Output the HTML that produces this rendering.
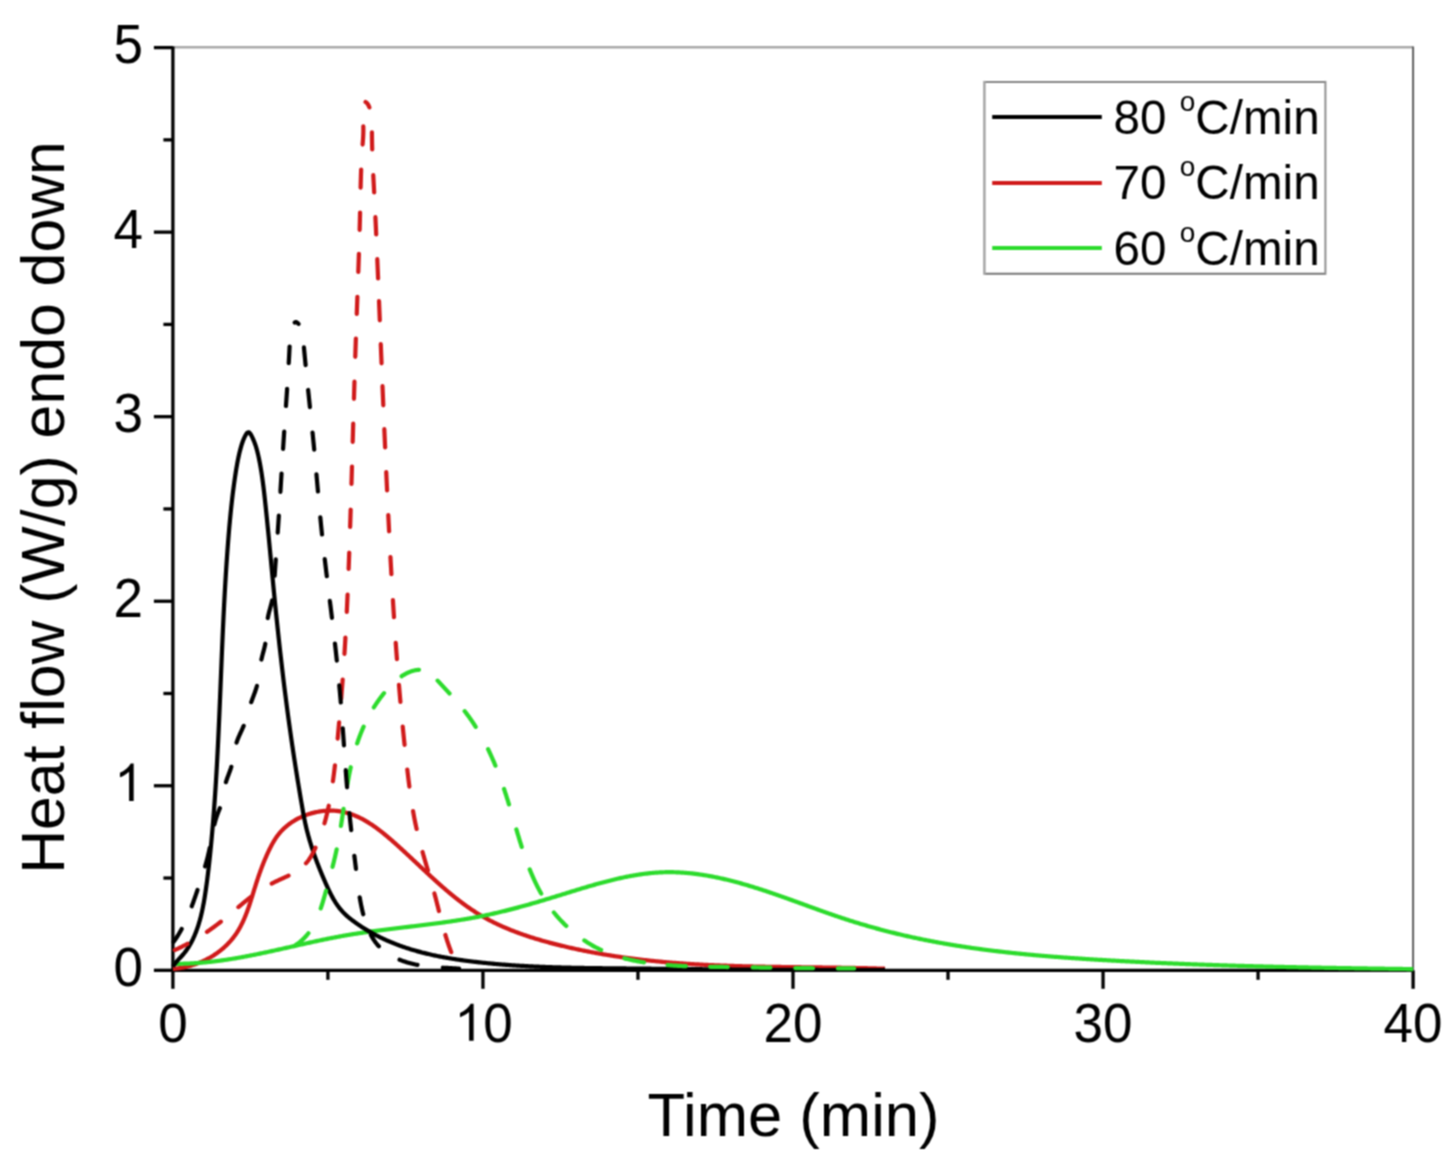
<!DOCTYPE html>
<html><head><meta charset="utf-8"><style>
html,body{margin:0;padding:0;background:#fff;width:1453px;height:1156px;overflow:hidden}
svg{display:block}
text{font-family:"Liberation Sans",sans-serif;fill:#000}
</style></head><body>
<svg width="1453" height="1156" viewBox="0 0 1453 1156"><defs><filter id="bl" x="0" y="0" width="1" height="1" color-interpolation-filters="sRGB"><feConvolveMatrix order="3" kernelMatrix="1 2 1 2 4 2 1 2 1" divisor="16" edgeMode="duplicate"/></filter></defs><g filter="url(#bl)"><rect width="1453" height="1156" fill="#fff"/>
<line x1="172.9" y1="47.300000000000004" x2="1413.1" y2="47.300000000000004" stroke="#a8a8a8" stroke-width="2.5"/>
<line x1="1413.1" y1="46.4" x2="1413.1" y2="970.3" stroke="#5e5e5e" stroke-width="2"/>
<line x1="172.9" y1="970.3" x2="1413.1" y2="970.3" stroke="#000" stroke-width="3.3"/>
<line x1="172.9" y1="46.4" x2="172.9" y2="971.8" stroke="#000" stroke-width="3.3"/>
<line x1="172.90" y1="970.3" x2="172.90" y2="988.8" stroke="#000" stroke-width="3.3"/>
<line x1="327.92" y1="970.3" x2="327.92" y2="979.8" stroke="#000" stroke-width="3.3"/>
<line x1="482.95" y1="970.3" x2="482.95" y2="988.8" stroke="#000" stroke-width="3.3"/>
<line x1="637.97" y1="970.3" x2="637.97" y2="979.8" stroke="#000" stroke-width="3.3"/>
<line x1="793.00" y1="970.3" x2="793.00" y2="988.8" stroke="#000" stroke-width="3.3"/>
<line x1="948.02" y1="970.3" x2="948.02" y2="979.8" stroke="#000" stroke-width="3.3"/>
<line x1="1103.05" y1="970.3" x2="1103.05" y2="988.8" stroke="#000" stroke-width="3.3"/>
<line x1="1258.07" y1="970.3" x2="1258.07" y2="979.8" stroke="#000" stroke-width="3.3"/>
<line x1="1413.10" y1="970.3" x2="1413.10" y2="988.8" stroke="#000" stroke-width="3.3"/>
<line x1="172.9" y1="970.30" x2="153.9" y2="970.30" stroke="#000" stroke-width="3.3"/>
<line x1="172.9" y1="878.03" x2="163.4" y2="878.03" stroke="#000" stroke-width="3.3"/>
<line x1="172.9" y1="785.76" x2="153.9" y2="785.76" stroke="#000" stroke-width="3.3"/>
<line x1="172.9" y1="693.49" x2="163.4" y2="693.49" stroke="#000" stroke-width="3.3"/>
<line x1="172.9" y1="601.22" x2="153.9" y2="601.22" stroke="#000" stroke-width="3.3"/>
<line x1="172.9" y1="508.95" x2="163.4" y2="508.95" stroke="#000" stroke-width="3.3"/>
<line x1="172.9" y1="416.68" x2="153.9" y2="416.68" stroke="#000" stroke-width="3.3"/>
<line x1="172.9" y1="324.41" x2="163.4" y2="324.41" stroke="#000" stroke-width="3.3"/>
<line x1="172.9" y1="232.14" x2="153.9" y2="232.14" stroke="#000" stroke-width="3.3"/>
<line x1="172.9" y1="139.87" x2="163.4" y2="139.87" stroke="#000" stroke-width="3.3"/>
<line x1="172.9" y1="47.60" x2="153.9" y2="47.60" stroke="#000" stroke-width="3.3"/>
<path d="M172.99,968.91 L173.96,968.83 L174.94,968.73 L175.92,968.63 L176.89,968.51 L177.87,968.38 L178.85,968.24 L179.83,968.09 L180.82,967.92 L181.80,967.75 L182.78,967.57 L183.76,967.37 L184.74,967.16 L185.72,966.94 L186.69,966.71 L187.67,966.47 L188.64,966.22 L189.61,965.96 L190.58,965.69 L191.55,965.40 L192.52,965.11 L193.48,964.80 L194.44,964.48 L195.40,964.16 L196.35,963.82 L197.30,963.47 L198.24,963.11 L199.18,962.74 L200.12,962.36 L201.05,961.97 L201.98,961.56 L202.90,961.15 L203.81,960.73 L204.72,960.30 L205.63,959.85 L206.53,959.40 L207.42,958.94 L208.31,958.46 L209.19,957.98 L210.07,957.48 L210.94,956.98 L211.80,956.47 L212.66,955.94 L213.51,955.41 L214.35,954.87 L215.18,954.32 L216.01,953.75 L216.83,953.18 L217.64,952.60 L218.45,952.01 L219.25,951.41 L220.04,950.80 L220.82,950.19 L221.59,949.56 L222.35,948.93 L223.11,948.28 L223.86,947.63 L224.59,946.97 L225.32,946.30 L226.04,945.62 L226.76,944.93 L227.46,944.23 L228.15,943.53 L228.83,942.81 L229.50,942.09 L230.16,941.36 L230.82,940.63 L231.46,939.88 L232.09,939.13 L232.71,938.36 L233.32,937.59 L233.92,936.82 L234.51,936.03 L235.08,935.24 L235.65,934.43 L236.20,933.63 L236.75,932.81 L237.28,931.99 L237.80,931.16 L238.31,930.32 L238.82,929.47 L239.31,928.62 L239.79,927.77 L240.26,926.90 L240.73,926.03 L241.18,925.16 L241.63,924.28 L242.07,923.39 L242.50,922.50 L242.92,921.60 L243.34,920.70 L243.75,919.80 L244.15,918.88 L244.54,917.97 L244.93,917.05 L245.31,916.12 L245.68,915.20 L246.05,914.26 L246.41,913.33 L246.77,912.39 L247.12,911.45 L247.47,910.50 L247.81,909.55 L248.15,908.60 L248.49,907.64 L248.82,906.69 L249.14,905.73 L249.47,904.77 L249.79,903.80 L250.10,902.84 L250.42,901.87 L250.73,900.90 L251.04,899.93 L251.35,898.96 L251.65,897.99 L251.96,897.02 L252.26,896.04 L252.56,895.07 L252.86,894.10 L253.16,893.12 L253.46,892.15 L253.76,891.17 L254.06,890.20 L254.36,889.23 L254.66,888.25 L254.96,887.28 L255.27,886.31 L255.57,885.34 L255.88,884.37 L256.19,883.41 L256.50,882.44 L256.81,881.48 L257.12,880.52 L257.44,879.56 L257.76,878.60 L258.08,877.64 L258.40,876.69 L258.73,875.74 L259.06,874.78 L259.39,873.83 L259.73,872.89 L260.07,871.94 L260.41,871.00 L260.75,870.05 L261.10,869.11 L261.45,868.17 L261.80,867.24 L262.16,866.30 L262.52,865.37 L262.88,864.43 L263.25,863.50 L263.62,862.58 L264.00,861.65 L264.38,860.72 L264.76,859.80 L265.15,858.88 L265.54,857.96 L265.94,857.04 L266.34,856.13 L266.74,855.21 L267.15,854.30 L267.56,853.39 L267.98,852.48 L268.41,851.58 L268.83,850.67 L269.27,849.77 L269.70,848.87 L270.15,847.97 L270.60,847.08 L271.06,846.19 L271.52,845.30 L271.99,844.42 L272.48,843.55 L272.97,842.68 L273.47,841.82 L273.98,840.96 L274.50,840.11 L275.03,839.27 L275.57,838.44 L276.13,837.61 L276.69,836.80 L277.27,835.99 L277.87,835.20 L278.48,834.41 L279.10,833.64 L279.74,832.88 L280.39,832.13 L281.05,831.39 L281.74,830.66 L282.43,829.94 L283.14,829.24 L283.86,828.55 L284.59,827.87 L285.34,827.20 L286.10,826.55 L286.87,825.90 L287.65,825.27 L288.44,824.66 L289.25,824.05 L290.06,823.46 L290.89,822.88 L291.72,822.31 L292.57,821.75 L293.42,821.21 L294.29,820.68 L295.16,820.16 L296.04,819.66 L296.93,819.16 L297.83,818.68 L298.74,818.22 L299.65,817.77 L300.57,817.33 L301.50,816.90 L302.44,816.49 L303.38,816.09 L304.32,815.70 L305.28,815.33 L306.23,814.97 L307.20,814.63 L308.16,814.30 L309.14,813.98 L310.11,813.67 L311.09,813.38 L312.08,813.11 L313.06,812.85 L314.05,812.60 L315.04,812.36 L316.04,812.15 L317.04,811.94 L318.03,811.75 L319.03,811.57 L320.04,811.41 L321.04,811.26 L322.04,811.13 L323.04,811.01 L324.05,810.91 L325.05,810.82 L326.05,810.75 L327.05,810.69 L328.05,810.64 L329.05,810.61 L330.05,810.60 L331.04,810.60 L332.03,810.62 L333.02,810.65 L334.01,810.70 L334.99,810.76 L335.97,810.84 L336.94,810.93 L337.91,811.04 L338.88,811.17 L339.84,811.31 L340.80,811.46 L341.75,811.63 L342.70,811.82 L343.65,812.02 L344.59,812.23 L345.52,812.46 L346.45,812.70 L347.38,812.96 L348.30,813.23 L349.22,813.51 L350.14,813.80 L351.05,814.11 L351.96,814.43 L352.86,814.77 L353.76,815.11 L354.66,815.47 L355.55,815.84 L356.44,816.22 L357.33,816.61 L358.21,817.02 L359.09,817.43 L359.96,817.85 L360.83,818.29 L361.70,818.74 L362.57,819.19 L363.43,819.66 L364.29,820.13 L365.14,820.62 L365.99,821.11 L366.84,821.61 L367.69,822.12 L368.53,822.64 L369.37,823.17 L370.20,823.71 L371.04,824.25 L371.87,824.80 L372.70,825.36 L373.52,825.93 L374.34,826.50 L375.16,827.08 L375.98,827.67 L376.80,828.26 L377.61,828.86 L378.42,829.47 L379.22,830.08 L380.03,830.70 L380.83,831.32 L381.63,831.95 L382.43,832.58 L383.22,833.21 L384.02,833.86 L384.81,834.50 L385.60,835.15 L386.38,835.80 L387.17,836.46 L387.95,837.12 L388.73,837.78 L389.51,838.45 L390.29,839.12 L391.06,839.79 L391.84,840.46 L392.61,841.14 L393.38,841.81 L394.15,842.49 L394.91,843.17 L395.68,843.85 L396.44,844.54 L397.21,845.22 L397.97,845.90 L398.73,846.59 L399.49,847.28 L400.24,847.96 L401.00,848.65 L401.75,849.34 L402.51,850.03 L403.26,850.72 L404.01,851.41 L404.76,852.10 L405.51,852.80 L406.26,853.49 L407.01,854.18 L407.75,854.87 L408.50,855.57 L409.24,856.26 L409.99,856.96 L410.73,857.65 L411.47,858.34 L412.22,859.04 L412.96,859.73 L413.70,860.43 L414.44,861.12 L415.18,861.82 L415.92,862.51 L416.66,863.20 L417.40,863.90 L418.13,864.59 L418.87,865.28 L419.61,865.98 L420.35,866.67 L421.08,867.36 L421.82,868.05 L422.56,868.74 L423.30,869.43 L424.03,870.12 L424.77,870.81 L425.51,871.50 L426.25,872.18 L426.98,872.87 L427.72,873.56 L428.46,874.24 L429.20,874.92 L429.94,875.60 L430.67,876.28 L431.41,876.96 L432.15,877.64 L432.89,878.32 L433.64,878.99 L434.38,879.67 L435.12,880.34 L435.86,881.01 L436.60,881.68 L437.35,882.35 L438.09,883.02 L438.84,883.68 L439.59,884.35 L440.33,885.01 L441.08,885.67 L441.83,886.32 L442.58,886.98 L443.33,887.63 L444.08,888.29 L444.84,888.94 L445.59,889.58 L446.35,890.23 L447.10,890.87 L447.86,891.51 L448.62,892.15 L449.38,892.79 L450.15,893.42 L450.91,894.06 L451.68,894.68 L452.44,895.31 L453.21,895.93 L453.98,896.56 L454.75,897.17 L455.53,897.79 L456.30,898.40 L457.08,899.01 L457.86,899.62 L458.64,900.23 L459.42,900.83 L460.20,901.43 L460.99,902.02 L461.78,902.61 L462.57,903.20 L463.36,903.79 L464.16,904.37 L464.95,904.95 L465.75,905.53 L466.55,906.10 L467.36,906.67 L468.16,907.23 L468.97,907.79 L469.78,908.35 L470.59,908.91 L471.41,909.46 L472.23,910.01 L473.05,910.55 L473.87,911.09 L474.70,911.62 L475.53,912.16 L476.36,912.68 L477.19,913.21 L478.03,913.73 L478.87,914.24 L479.71,914.75 L480.56,915.26 L481.41,915.76 L482.26,916.26 L483.11,916.75 L483.97,917.24 L484.83,917.73 L485.69,918.21 L486.56,918.69 L487.43,919.16 L488.30,919.63 L489.18,920.09 L490.05,920.55 L490.93,921.01 L491.82,921.46 L492.70,921.91 L493.59,922.35 L494.48,922.79 L495.37,923.23 L496.27,923.66 L497.17,924.09 L498.07,924.51 L498.97,924.93 L499.88,925.35 L500.78,925.76 L501.69,926.17 L502.61,926.58 L503.52,926.98 L504.44,927.38 L505.36,927.77 L506.28,928.16 L507.20,928.55 L508.12,928.93 L509.05,929.31 L509.98,929.69 L510.91,930.07 L511.84,930.44 L512.78,930.80 L513.71,931.17 L514.65,931.53 L515.59,931.89 L516.53,932.24 L517.48,932.59 L518.42,932.94 L519.37,933.28 L520.31,933.63 L521.26,933.96 L522.21,934.30 L523.17,934.63 L524.12,934.96 L525.08,935.29 L526.03,935.61 L526.99,935.93 L527.95,936.25 L528.91,936.57 L529.87,936.88 L530.83,937.19 L531.80,937.50 L532.76,937.80 L533.73,938.10 L534.69,938.40 L535.66,938.70 L536.63,938.99 L537.60,939.28 L538.57,939.57 L539.54,939.86 L540.51,940.14 L541.49,940.43 L542.46,940.71 L543.43,940.98 L544.41,941.26 L545.38,941.53 L546.36,941.80 L547.34,942.07 L548.31,942.34 L549.29,942.60 L550.27,942.86 L551.25,943.12 L552.23,943.38 L553.21,943.63 L554.19,943.89 L555.17,944.14 L556.15,944.39 L557.13,944.64 L558.11,944.88 L559.09,945.13 L560.07,945.37 L561.05,945.61 L562.03,945.85 L563.01,946.08 L563.99,946.32 L564.97,946.55 L565.96,946.78 L566.94,947.01 L567.92,947.24 L568.90,947.47 L569.88,947.69 L570.87,947.91 L571.85,948.13 L572.83,948.35 L573.82,948.57 L574.80,948.79 L575.78,949.00 L576.76,949.21 L577.75,949.42 L578.73,949.63 L579.72,949.84 L580.70,950.04 L581.68,950.24 L582.67,950.45 L583.65,950.65 L584.64,950.84 L585.62,951.04 L586.61,951.24 L587.59,951.43 L588.58,951.62 L589.56,951.81 L590.55,952.00 L591.53,952.19 L592.52,952.37 L593.50,952.56 L594.49,952.74 L595.48,952.92 L596.46,953.10 L597.45,953.27 L598.44,953.45 L599.42,953.62 L600.41,953.80 L601.40,953.97 L602.38,954.14 L603.37,954.31 L604.36,954.47 L605.35,954.64 L606.33,954.80 L607.32,954.96 L608.31,955.12 L609.30,955.28 L610.29,955.44 L611.27,955.60 L612.26,955.75 L613.25,955.90 L614.24,956.06 L615.23,956.21 L616.22,956.36 L617.21,956.50 L618.20,956.65 L619.19,956.79 L620.17,956.94 L621.16,957.08 L622.15,957.22 L623.14,957.36 L624.13,957.50 L625.12,957.63 L626.11,957.77 L627.10,957.90 L628.10,958.03 L629.09,958.16 L630.08,958.29 L631.07,958.42 L632.06,958.55 L633.05,958.68 L634.04,958.80 L635.03,958.92 L636.02,959.04 L637.02,959.17 L638.01,959.28 L639.00,959.40 L639.99,959.52 L640.98,959.64 L641.97,959.75 L642.97,959.86 L643.96,959.97 L644.95,960.09 L645.94,960.19 L646.94,960.30 L647.93,960.41 L648.92,960.52 L649.92,960.62 L650.91,960.72 L651.90,960.83 L652.90,960.93 L653.89,961.03 L654.88,961.13 L655.88,961.22 L656.87,961.32 L657.86,961.42 L658.86,961.51 L659.85,961.60 L660.85,961.70 L661.84,961.79 L662.84,961.88 L663.83,961.97 L664.82,962.05 L665.82,962.14 L666.81,962.23 L667.81,962.31 L668.80,962.40 L669.80,962.48 L670.79,962.56 L671.79,962.64 L672.78,962.72 L673.78,962.80 L674.78,962.88 L675.77,962.95 L676.77,963.03 L677.76,963.10 L678.76,963.18 L679.76,963.25 L680.75,963.32 L681.75,963.39 L682.74,963.46 L683.74,963.53 L684.74,963.60 L685.73,963.67 L686.73,963.73 L687.73,963.80 L688.72,963.86 L689.72,963.93 L690.72,963.99 L691.71,964.05 L692.71,964.11 L693.71,964.17 L694.71,964.23 L695.70,964.29 L696.70,964.35 L697.70,964.40 L698.70,964.46 L699.69,964.51 L700.69,964.57 L701.69,964.62 L702.69,964.68 L703.69,964.73 L704.68,964.78 L705.68,964.83 L706.68,964.88 L707.68,964.93 L708.68,964.98 L709.68,965.02 L710.68,965.07 L711.67,965.12 L712.67,965.16 L713.67,965.21 L714.67,965.25 L715.67,965.29 L716.67,965.34 L717.67,965.38 L718.67,965.42 L719.67,965.46 L720.67,965.50 L721.67,965.54 L722.66,965.58 L723.66,965.61 L724.66,965.65 L725.66,965.69 L726.66,965.72 L727.66,965.76 L728.66,965.80 L729.66,965.83 L730.66,965.86 L731.66,965.90 L732.66,965.93 L733.66,965.96 L734.66,965.99 L735.66,966.02 L736.66,966.05 L737.66,966.08 L738.66,966.11 L739.67,966.14 L740.67,966.17 L741.67,966.20 L742.67,966.23 L743.67,966.25 L744.67,966.28 L745.67,966.30 L746.67,966.33 L747.67,966.36 L748.67,966.38 L749.67,966.40 L750.68,966.43 L751.68,966.45 L752.68,966.47 L753.68,966.50 L754.68,966.52 L755.68,966.54 L756.68,966.56 L757.68,966.58 L758.69,966.60 L759.69,966.62 L760.69,966.64 L761.69,966.66 L762.69,966.68 L763.69,966.70 L764.70,966.72 L765.70,966.74 L766.70,966.75 L767.70,966.77 L768.70,966.79 L769.71,966.81 L770.71,966.82 L771.71,966.84 L772.71,966.85 L773.71,966.87 L774.72,966.89 L775.72,966.90 L776.72,966.92 L777.72,966.93 L778.73,966.95 L779.73,966.96 L780.73,966.97 L781.73,966.99 L782.73,967.00 L783.74,967.02 L784.74,967.03 L785.74,967.04 L786.74,967.06 L787.75,967.07 L788.75,967.08 L789.75,967.09 L790.76,967.11 L791.76,967.12 L792.76,967.13 L793.76,967.14 L794.77,967.15 L795.77,967.17 L796.77,967.18 L797.78,967.19 L798.78,967.20 L799.78,967.21 L800.78,967.22 L801.79,967.24 L802.79,967.25 L803.79,967.26 L804.80,967.27 L805.80,967.28 L806.80,967.29 L807.81,967.30 L808.81,967.32 L809.81,967.33 L810.81,967.34 L811.82,967.35 L812.82,967.36 L813.82,967.37 L814.83,967.38 L815.83,967.40 L816.83,967.41 L817.84,967.42 L818.84,967.43 L819.84,967.44 L820.85,967.45 L821.85,967.47 L822.85,967.48 L823.86,967.49 L824.86,967.50 L825.86,967.51 L826.87,967.53 L827.87,967.54 L828.87,967.55 L829.88,967.57 L830.88,967.58 L831.88,967.59 L832.89,967.61 L833.89,967.62 L834.89,967.63 L835.90,967.65 L836.90,967.66 L837.90,967.68 L838.91,967.69 L839.91,967.70 L840.91,967.72 L841.92,967.74 L842.92,967.75 L843.92,967.77 L844.93,967.78 L845.93,967.80 L846.93,967.82 L847.94,967.83 L848.94,967.85 L849.94,967.87 L850.95,967.89 L851.95,967.90 L852.95,967.92 L853.96,967.94 L854.96,967.96 L855.96,967.98 L856.97,968.00 L857.97,968.02 L858.97,968.04 L859.98,968.06 L860.98,968.08 L861.98,968.10 L862.99,968.13 L863.99,968.15 L864.99,968.17 L866.00,968.19 L867.00,968.22 L868.00,968.24 L869.01,968.27 L870.01,968.29 L871.01,968.32 L872.01,968.34 L873.02,968.37 L874.02,968.40 L875.02,968.42 L876.03,968.45 L877.03,968.48 L878.03,968.51 L879.04,968.54 L880.04,968.57 L881.04,968.60 L882.04,968.63 L883.05,968.66 L884.05,968.70 L885.05,968.73" fill="none" stroke="#d01a1a" stroke-width="4.2" stroke-linejoin="round"/>
<path d="M173.40,963.80 L174.42,963.81 L175.43,963.82 L176.45,963.82 L177.46,963.81 L178.47,963.81 L179.49,963.80 L180.50,963.78 L181.51,963.76 L182.52,963.74 L183.53,963.72 L184.54,963.69 L185.55,963.66 L186.55,963.62 L187.56,963.58 L188.57,963.54 L189.58,963.50 L190.58,963.45 L191.59,963.40 L192.59,963.34 L193.59,963.28 L194.60,963.22 L195.60,963.15 L196.60,963.09 L197.60,963.01 L198.61,962.94 L199.61,962.86 L200.61,962.78 L201.61,962.70 L202.61,962.61 L203.60,962.52 L204.60,962.43 L205.60,962.33 L206.60,962.24 L207.59,962.14 L208.59,962.03 L209.58,961.92 L210.58,961.82 L211.57,961.70 L212.57,961.59 L213.56,961.47 L214.56,961.35 L215.55,961.23 L216.54,961.11 L217.53,960.98 L218.52,960.85 L219.52,960.72 L220.51,960.58 L221.50,960.45 L222.49,960.31 L223.48,960.17 L224.46,960.02 L225.45,959.88 L226.44,959.73 L227.43,959.58 L228.42,959.43 L229.40,959.27 L230.39,959.12 L231.38,958.96 L232.36,958.80 L233.35,958.64 L234.34,958.47 L235.32,958.31 L236.31,958.14 L237.29,957.97 L238.27,957.80 L239.26,957.62 L240.24,957.45 L241.23,957.27 L242.21,957.09 L243.19,956.91 L244.17,956.73 L245.16,956.55 L246.14,956.36 L247.12,956.18 L248.10,955.99 L249.08,955.80 L250.06,955.61 L251.04,955.42 L252.03,955.23 L253.01,955.03 L253.99,954.83 L254.97,954.64 L255.95,954.44 L256.93,954.24 L257.90,954.04 L258.88,953.84 L259.86,953.63 L260.84,953.43 L261.82,953.23 L262.80,953.02 L263.78,952.81 L264.76,952.61 L265.73,952.40 L266.71,952.19 L267.69,951.98 L268.67,951.77 L269.64,951.55 L270.62,951.34 L271.60,951.13 L272.58,950.91 L273.55,950.70 L274.53,950.48 L275.51,950.27 L276.49,950.05 L277.46,949.84 L278.44,949.62 L279.42,949.40 L280.39,949.18 L281.37,948.96 L282.35,948.75 L283.32,948.53 L284.30,948.31 L285.28,948.09 L286.25,947.87 L287.23,947.65 L288.20,947.43 L289.18,947.21 L290.16,946.99 L291.13,946.77 L292.11,946.55 L293.09,946.33 L294.06,946.11 L295.04,945.88 L296.02,945.66 L296.99,945.44 L297.97,945.23 L298.95,945.01 L299.92,944.79 L300.90,944.57 L301.88,944.35 L302.86,944.13 L303.83,943.91 L304.81,943.69 L305.79,943.48 L306.77,943.26 L307.74,943.04 L308.72,942.83 L309.70,942.61 L310.68,942.40 L311.65,942.18 L312.63,941.97 L313.61,941.76 L314.59,941.55 L315.57,941.34 L316.55,941.13 L317.53,940.92 L318.51,940.71 L319.49,940.50 L320.47,940.29 L321.45,940.09 L322.43,939.88 L323.41,939.68 L324.39,939.48 L325.37,939.27 L326.35,939.07 L327.33,938.87 L328.31,938.68 L329.29,938.48 L330.27,938.28 L331.26,938.09 L332.24,937.90 L333.22,937.70 L334.20,937.51 L335.19,937.32 L336.17,937.14 L337.16,936.95 L338.14,936.77 L339.12,936.58 L340.11,936.40 L341.09,936.22 L342.08,936.04 L343.06,935.87 L344.05,935.69 L345.04,935.52 L346.02,935.35 L347.01,935.18 L348.00,935.01 L348.99,934.84 L349.97,934.68 L350.96,934.52 L351.95,934.35 L352.94,934.19 L353.93,934.03 L354.92,933.88 L355.91,933.72 L356.90,933.57 L357.89,933.41 L358.88,933.26 L359.87,933.11 L360.86,932.96 L361.85,932.82 L362.84,932.67 L363.84,932.52 L364.83,932.38 L365.82,932.24 L366.81,932.10 L367.80,931.95 L368.80,931.81 L369.79,931.68 L370.78,931.54 L371.78,931.40 L372.77,931.27 L373.76,931.13 L374.76,931.00 L375.75,930.87 L376.75,930.73 L377.74,930.60 L378.73,930.47 L379.73,930.34 L380.72,930.21 L381.72,930.09 L382.71,929.96 L383.71,929.83 L384.70,929.71 L385.70,929.58 L386.69,929.46 L387.69,929.33 L388.68,929.21 L389.68,929.09 L390.68,928.96 L391.67,928.84 L392.67,928.72 L393.66,928.60 L394.66,928.48 L395.65,928.36 L396.65,928.24 L397.65,928.12 L398.64,928.00 L399.64,927.88 L400.63,927.76 L401.63,927.64 L402.63,927.52 L403.62,927.40 L404.62,927.28 L405.61,927.17 L406.61,927.05 L407.60,926.93 L408.60,926.81 L409.60,926.69 L410.59,926.57 L411.59,926.45 L412.58,926.33 L413.58,926.22 L414.57,926.10 L415.57,925.98 L416.56,925.86 L417.56,925.74 L418.55,925.62 L419.55,925.50 L420.54,925.38 L421.54,925.26 L422.53,925.13 L423.53,925.01 L424.52,924.89 L425.51,924.77 L426.51,924.64 L427.50,924.52 L428.49,924.40 L429.49,924.27 L430.48,924.15 L431.47,924.02 L432.47,923.89 L433.46,923.76 L434.45,923.64 L435.44,923.51 L436.44,923.38 L437.43,923.25 L438.42,923.12 L439.41,922.98 L440.40,922.85 L441.39,922.72 L442.38,922.58 L443.37,922.45 L444.36,922.31 L445.35,922.17 L446.34,922.03 L447.33,921.89 L448.32,921.75 L449.31,921.61 L450.30,921.46 L451.28,921.32 L452.27,921.17 L453.26,921.03 L454.25,920.88 L455.23,920.73 L456.22,920.58 L457.21,920.43 L458.19,920.27 L459.18,920.12 L460.16,919.96 L461.15,919.80 L462.13,919.64 L463.11,919.48 L464.10,919.32 L465.08,919.16 L466.06,918.99 L467.05,918.82 L468.03,918.65 L469.01,918.48 L469.99,918.31 L470.97,918.14 L471.95,917.96 L472.93,917.78 L473.91,917.61 L474.89,917.42 L475.87,917.24 L476.85,917.06 L477.82,916.87 L478.80,916.68 L479.78,916.49 L480.75,916.30 L481.73,916.10 L482.70,915.91 L483.68,915.71 L484.65,915.51 L485.63,915.30 L486.60,915.10 L487.57,914.89 L488.54,914.68 L489.52,914.47 L490.49,914.26 L491.46,914.04 L492.43,913.83 L493.40,913.61 L494.37,913.39 L495.34,913.17 L496.31,912.94 L497.28,912.72 L498.24,912.49 L499.21,912.26 L500.18,912.03 L501.15,911.80 L502.11,911.56 L503.08,911.33 L504.05,911.09 L505.01,910.85 L505.98,910.61 L506.94,910.37 L507.91,910.13 L508.88,909.88 L509.84,909.63 L510.80,909.38 L511.77,909.13 L512.73,908.88 L513.70,908.63 L514.66,908.38 L515.63,908.12 L516.59,907.86 L517.55,907.61 L518.52,907.35 L519.48,907.08 L520.44,906.82 L521.41,906.56 L522.37,906.29 L523.33,906.03 L524.29,905.76 L525.26,905.49 L526.22,905.22 L527.18,904.95 L528.15,904.68 L529.11,904.41 L530.07,904.13 L531.03,903.86 L532.00,903.58 L532.96,903.30 L533.92,903.02 L534.88,902.74 L535.85,902.46 L536.81,902.18 L537.77,901.90 L538.73,901.62 L539.70,901.33 L540.66,901.05 L541.62,900.76 L542.59,900.47 L543.55,900.19 L544.51,899.90 L545.48,899.61 L546.44,899.32 L547.41,899.03 L548.37,898.73 L549.33,898.44 L550.30,898.15 L551.26,897.86 L552.23,897.56 L553.19,897.27 L554.16,896.97 L555.12,896.67 L556.09,896.38 L557.06,896.08 L558.02,895.78 L558.99,895.48 L559.96,895.18 L560.92,894.88 L561.89,894.59 L562.86,894.29 L563.83,893.99 L564.80,893.69 L565.77,893.38 L566.73,893.08 L567.70,892.78 L568.67,892.48 L569.64,892.18 L570.61,891.88 L571.58,891.58 L572.55,891.29 L573.52,890.99 L574.49,890.69 L575.46,890.39 L576.44,890.09 L577.41,889.79 L578.38,889.50 L579.35,889.20 L580.32,888.91 L581.30,888.61 L582.27,888.32 L583.24,888.03 L584.21,887.74 L585.19,887.44 L586.16,887.16 L587.13,886.87 L588.11,886.58 L589.08,886.29 L590.06,886.01 L591.03,885.73 L592.01,885.44 L592.98,885.16 L593.95,884.88 L594.93,884.61 L595.91,884.33 L596.88,884.06 L597.86,883.78 L598.83,883.51 L599.81,883.24 L600.78,882.98 L601.76,882.71 L602.74,882.45 L603.71,882.19 L604.69,881.93 L605.67,881.67 L606.65,881.41 L607.62,881.16 L608.60,880.91 L609.58,880.66 L610.56,880.42 L611.53,880.18 L612.51,879.94 L613.49,879.70 L614.47,879.46 L615.45,879.23 L616.43,879.00 L617.41,878.77 L618.38,878.55 L619.36,878.33 L620.34,878.11 L621.32,877.89 L622.30,877.68 L623.28,877.47 L624.26,877.27 L625.24,877.06 L626.22,876.86 L627.20,876.67 L628.18,876.48 L629.16,876.29 L630.14,876.10 L631.12,875.92 L632.10,875.74 L633.08,875.57 L634.06,875.39 L635.04,875.23 L636.03,875.06 L637.01,874.90 L637.99,874.75 L638.97,874.60 L639.95,874.45 L640.93,874.31 L641.91,874.17 L642.89,874.03 L643.88,873.90 L644.86,873.78 L645.84,873.65 L646.82,873.54 L647.80,873.42 L648.79,873.31 L649.77,873.21 L650.75,873.11 L651.73,873.02 L652.71,872.93 L653.70,872.84 L654.68,872.76 L655.66,872.69 L656.64,872.62 L657.63,872.55 L658.61,872.49 L659.59,872.44 L660.57,872.39 L661.55,872.34 L662.54,872.30 L663.52,872.27 L664.50,872.24 L665.49,872.22 L666.47,872.20 L667.45,872.19 L668.43,872.18 L669.42,872.18 L670.40,872.18 L671.38,872.19 L672.36,872.20 L673.35,872.22 L674.33,872.24 L675.31,872.27 L676.29,872.30 L677.28,872.34 L678.26,872.38 L679.24,872.43 L680.22,872.48 L681.21,872.54 L682.19,872.60 L683.17,872.67 L684.15,872.74 L685.13,872.81 L686.12,872.89 L687.10,872.98 L688.08,873.06 L689.06,873.16 L690.04,873.26 L691.02,873.36 L692.01,873.46 L692.99,873.57 L693.97,873.69 L694.95,873.81 L695.93,873.93 L696.91,874.06 L697.89,874.19 L698.87,874.32 L699.85,874.46 L700.83,874.60 L701.81,874.75 L702.79,874.90 L703.77,875.05 L704.75,875.21 L705.73,875.37 L706.71,875.54 L707.69,875.71 L708.67,875.88 L709.65,876.06 L710.63,876.24 L711.60,876.42 L712.58,876.61 L713.56,876.80 L714.54,876.99 L715.51,877.19 L716.49,877.39 L717.47,877.60 L718.44,877.80 L719.42,878.01 L720.40,878.23 L721.37,878.44 L722.35,878.66 L723.32,878.88 L724.30,879.11 L725.27,879.34 L726.25,879.57 L727.22,879.80 L728.20,880.04 L729.17,880.28 L730.14,880.52 L731.12,880.77 L732.09,881.02 L733.06,881.27 L734.04,881.52 L735.01,881.78 L735.98,882.04 L736.95,882.30 L737.92,882.56 L738.89,882.83 L739.86,883.10 L740.83,883.37 L741.80,883.64 L742.77,883.92 L743.74,884.20 L744.71,884.47 L745.68,884.76 L746.64,885.04 L747.61,885.33 L748.58,885.62 L749.55,885.91 L750.51,886.20 L751.48,886.49 L752.44,886.79 L753.41,887.09 L754.37,887.39 L755.34,887.69 L756.30,887.99 L757.26,888.30 L758.23,888.60 L759.19,888.91 L760.15,889.22 L761.11,889.53 L762.07,889.84 L763.04,890.16 L764.00,890.47 L764.96,890.79 L765.91,891.11 L766.87,891.43 L767.83,891.75 L768.79,892.07 L769.75,892.40 L770.70,892.72 L771.66,893.05 L772.62,893.37 L773.57,893.70 L774.53,894.03 L775.48,894.36 L776.44,894.69 L777.39,895.02 L778.34,895.36 L779.29,895.69 L780.25,896.02 L781.20,896.36 L782.15,896.69 L783.10,897.03 L784.05,897.37 L785.00,897.71 L785.95,898.04 L786.90,898.38 L787.85,898.72 L788.79,899.06 L789.74,899.40 L790.69,899.74 L791.64,900.08 L792.58,900.42 L793.53,900.77 L794.48,901.11 L795.42,901.45 L796.37,901.79 L797.31,902.14 L798.26,902.48 L799.20,902.82 L800.15,903.17 L801.09,903.51 L802.04,903.85 L802.98,904.20 L803.93,904.54 L804.87,904.88 L805.82,905.23 L806.76,905.57 L807.70,905.91 L808.65,906.26 L809.59,906.60 L810.53,906.94 L811.48,907.28 L812.42,907.63 L813.36,907.97 L814.31,908.31 L815.25,908.65 L816.19,908.99 L817.14,909.33 L818.08,909.67 L819.03,910.01 L819.97,910.35 L820.91,910.68 L821.86,911.02 L822.80,911.36 L823.75,911.69 L824.69,912.03 L825.63,912.36 L826.58,912.70 L827.52,913.03 L828.47,913.36 L829.41,913.69 L830.36,914.02 L831.31,914.35 L832.25,914.68 L833.20,915.01 L834.14,915.33 L835.09,915.66 L836.04,915.98 L836.99,916.30 L837.93,916.63 L838.88,916.95 L839.83,917.26 L840.78,917.58 L841.73,917.90 L842.68,918.21 L843.63,918.53 L844.58,918.84 L845.53,919.15 L846.48,919.46 L847.43,919.77 L848.38,920.08 L849.34,920.38 L850.29,920.69 L851.24,920.99 L852.20,921.29 L853.15,921.59 L854.11,921.89 L855.06,922.18 L856.02,922.48 L856.97,922.77 L857.93,923.07 L858.89,923.36 L859.84,923.65 L860.80,923.93 L861.76,924.22 L862.72,924.51 L863.68,924.79 L864.63,925.07 L865.59,925.35 L866.55,925.63 L867.51,925.91 L868.48,926.19 L869.44,926.47 L870.40,926.74 L871.36,927.01 L872.32,927.28 L873.28,927.55 L874.25,927.82 L875.21,928.09 L876.17,928.36 L877.14,928.62 L878.10,928.88 L879.07,929.14 L880.03,929.41 L881.00,929.66 L881.96,929.92 L882.93,930.18 L883.90,930.43 L884.86,930.69 L885.83,930.94 L886.80,931.19 L887.77,931.44 L888.74,931.68 L889.70,931.93 L890.67,932.18 L891.64,932.42 L892.61,932.66 L893.58,932.90 L894.55,933.14 L895.52,933.38 L896.49,933.62 L897.47,933.85 L898.44,934.09 L899.41,934.32 L900.38,934.55 L901.35,934.78 L902.33,935.01 L903.30,935.23 L904.27,935.46 L905.25,935.68 L906.22,935.91 L907.20,936.13 L908.17,936.35 L909.15,936.57 L910.12,936.79 L911.10,937.00 L912.07,937.22 L913.05,937.43 L914.03,937.64 L915.00,937.85 L915.98,938.06 L916.96,938.27 L917.93,938.48 L918.91,938.68 L919.89,938.89 L920.87,939.09 L921.85,939.29 L922.83,939.49 L923.81,939.69 L924.79,939.89 L925.77,940.08 L926.75,940.28 L927.73,940.47 L928.71,940.66 L929.69,940.85 L930.67,941.04 L931.65,941.23 L932.63,941.42 L933.61,941.61 L934.60,941.79 L935.58,941.97 L936.56,942.16 L937.54,942.34 L938.53,942.52 L939.51,942.70 L940.49,942.87 L941.48,943.05 L942.46,943.23 L943.45,943.40 L944.43,943.57 L945.42,943.74 L946.40,943.92 L947.39,944.08 L948.37,944.25 L949.36,944.42 L950.34,944.59 L951.33,944.75 L952.32,944.91 L953.30,945.08 L954.29,945.24 L955.28,945.40 L956.26,945.56 L957.25,945.72 L958.24,945.87 L959.23,946.03 L960.21,946.18 L961.20,946.34 L962.19,946.49 L963.18,946.64 L964.17,946.79 L965.16,946.94 L966.15,947.09 L967.14,947.24 L968.13,947.38 L969.12,947.53 L970.11,947.67 L971.10,947.82 L972.09,947.96 L973.08,948.10 L974.07,948.24 L975.06,948.38 L976.05,948.52 L977.04,948.66 L978.04,948.79 L979.03,948.93 L980.02,949.06 L981.01,949.19 L982.00,949.33 L983.00,949.46 L983.99,949.59 L984.98,949.72 L985.97,949.85 L986.97,949.97 L987.96,950.10 L988.95,950.23 L989.95,950.35 L990.94,950.48 L991.94,950.60 L992.93,950.72 L993.92,950.84 L994.92,950.96 L995.91,951.08 L996.91,951.20 L997.90,951.32 L998.90,951.44 L999.89,951.55 L1000.89,951.67 L1001.88,951.78 L1002.88,951.90 L1003.88,952.01 L1004.87,952.12 L1005.87,952.23 L1006.86,952.34 L1007.86,952.45 L1008.86,952.56 L1009.85,952.67 L1010.85,952.78 L1011.85,952.88 L1012.84,952.99 L1013.84,953.09 L1014.84,953.20 L1015.83,953.30 L1016.83,953.40 L1017.83,953.51 L1018.83,953.61 L1019.82,953.71 L1020.82,953.81 L1021.82,953.90 L1022.82,954.00 L1023.82,954.10 L1024.81,954.20 L1025.81,954.29 L1026.81,954.39 L1027.81,954.48 L1028.81,954.58 L1029.81,954.67 L1030.80,954.76 L1031.80,954.85 L1032.80,954.95 L1033.80,955.04 L1034.80,955.13 L1035.80,955.22 L1036.80,955.30 L1037.80,955.39 L1038.80,955.48 L1039.80,955.57 L1040.80,955.65 L1041.80,955.74 L1042.80,955.82 L1043.80,955.91 L1044.80,955.99 L1045.80,956.07 L1046.80,956.16 L1047.80,956.24 L1048.80,956.32 L1049.80,956.40 L1050.80,956.48 L1051.80,956.56 L1052.80,956.64 L1053.80,956.72 L1054.80,956.80 L1055.80,956.87 L1056.80,956.95 L1057.80,957.03 L1058.80,957.10 L1059.80,957.18 L1060.80,957.25 L1061.80,957.33 L1062.80,957.40 L1063.80,957.48 L1064.81,957.55 L1065.81,957.62 L1066.81,957.69 L1067.81,957.77 L1068.81,957.84 L1069.81,957.91 L1070.81,957.98 L1071.81,958.05 L1072.81,958.12 L1073.81,958.19 L1074.82,958.25 L1075.82,958.32 L1076.82,958.39 L1077.82,958.46 L1078.82,958.53 L1079.82,958.59 L1080.82,958.66 L1081.82,958.72 L1082.83,958.79 L1083.83,958.85 L1084.83,958.92 L1085.83,958.98 L1086.83,959.05 L1087.83,959.11 L1088.83,959.17 L1089.83,959.24 L1090.84,959.30 L1091.84,959.36 L1092.84,959.42 L1093.84,959.49 L1094.84,959.55 L1095.84,959.61 L1096.84,959.67 L1097.84,959.73 L1098.84,959.79 L1099.85,959.85 L1100.85,959.91 L1101.85,959.97 L1102.85,960.03 L1103.85,960.09 L1104.85,960.14 L1105.85,960.20 L1106.85,960.26 L1107.85,960.32 L1108.85,960.38 L1109.86,960.43 L1110.86,960.49 L1111.86,960.55 L1112.86,960.60 L1113.86,960.66 L1114.86,960.71 L1115.86,960.77 L1116.86,960.82 L1117.86,960.88 L1118.86,960.93 L1119.86,960.99 L1120.86,961.04 L1121.86,961.10 L1122.86,961.15 L1123.87,961.20 L1124.87,961.26 L1125.87,961.31 L1126.87,961.36 L1127.87,961.41 L1128.87,961.47 L1129.87,961.52 L1130.87,961.57 L1131.87,961.62 L1132.87,961.67 L1133.87,961.72 L1134.87,961.77 L1135.87,961.82 L1136.87,961.87 L1137.87,961.92 L1138.87,961.97 L1139.87,962.02 L1140.87,962.07 L1141.87,962.12 L1142.87,962.17 L1143.87,962.22 L1144.88,962.27 L1145.88,962.31 L1146.88,962.36 L1147.88,962.41 L1148.88,962.46 L1149.88,962.50 L1150.88,962.55 L1151.88,962.59 L1152.88,962.64 L1153.88,962.69 L1154.88,962.73 L1155.88,962.78 L1156.88,962.82 L1157.88,962.87 L1158.88,962.91 L1159.88,962.96 L1160.88,963.00 L1161.88,963.05 L1162.88,963.09 L1163.88,963.13 L1164.88,963.18 L1165.88,963.22 L1166.88,963.26 L1167.88,963.31 L1168.88,963.35 L1169.88,963.39 L1170.88,963.43 L1171.88,963.47 L1172.88,963.52 L1173.88,963.56 L1174.88,963.60 L1175.88,963.64 L1176.88,963.68 L1177.88,963.72 L1178.88,963.76 L1179.88,963.80 L1180.88,963.84 L1181.88,963.88 L1182.88,963.92 L1183.88,963.96 L1184.88,964.00 L1185.88,964.04 L1186.88,964.07 L1187.88,964.11 L1188.88,964.15 L1189.88,964.19 L1190.88,964.23 L1191.88,964.26 L1192.88,964.30 L1193.88,964.34 L1194.88,964.38 L1195.88,964.41 L1196.88,964.45 L1197.88,964.49 L1198.88,964.52 L1199.88,964.56 L1200.88,964.59 L1201.88,964.63 L1202.88,964.66 L1203.88,964.70 L1204.88,964.73 L1205.88,964.77 L1206.88,964.80 L1207.88,964.84 L1208.88,964.87 L1209.88,964.91 L1210.88,964.94 L1211.88,964.97 L1212.88,965.01 L1213.88,965.04 L1214.88,965.07 L1215.88,965.11 L1216.88,965.14 L1217.88,965.17 L1218.88,965.20 L1219.88,965.24 L1220.88,965.27 L1221.88,965.30 L1222.88,965.33 L1223.88,965.36 L1224.88,965.39 L1225.88,965.43 L1226.88,965.46 L1227.88,965.49 L1228.88,965.52 L1229.88,965.55 L1230.88,965.58 L1231.88,965.61 L1232.88,965.64 L1233.88,965.67 L1234.88,965.70 L1235.88,965.73 L1236.88,965.76 L1237.88,965.79 L1238.88,965.82 L1239.88,965.84 L1240.88,965.87 L1241.88,965.90 L1242.88,965.93 L1243.88,965.96 L1244.88,965.99 L1245.88,966.01 L1246.88,966.04 L1247.88,966.07 L1248.88,966.10 L1249.88,966.12 L1250.88,966.15 L1251.88,966.18 L1252.88,966.20 L1253.88,966.23 L1254.88,966.26 L1255.88,966.28 L1256.88,966.31 L1257.88,966.33 L1258.88,966.36 L1259.88,966.39 L1260.88,966.41 L1261.88,966.44 L1262.88,966.46 L1263.88,966.49 L1264.88,966.51 L1265.88,966.54 L1266.88,966.56 L1267.88,966.59 L1268.88,966.61 L1269.88,966.63 L1270.88,966.66 L1271.88,966.68 L1272.88,966.71 L1273.88,966.73 L1274.88,966.75 L1275.88,966.78 L1276.88,966.80 L1277.88,966.82 L1278.88,966.85 L1279.88,966.87 L1280.88,966.89 L1281.88,966.92 L1282.89,966.94 L1283.89,966.96 L1284.89,966.98 L1285.89,967.01 L1286.89,967.03 L1287.89,967.05 L1288.89,967.07 L1289.89,967.09 L1290.89,967.11 L1291.89,967.14 L1292.89,967.16 L1293.89,967.18 L1294.89,967.20 L1295.89,967.22 L1296.89,967.24 L1297.89,967.26 L1298.89,967.28 L1299.90,967.30 L1300.90,967.32 L1301.90,967.34 L1302.90,967.36 L1303.90,967.38 L1304.90,967.40 L1305.90,967.42 L1306.90,967.44 L1307.90,967.46 L1308.90,967.48 L1309.90,967.50 L1310.90,967.52 L1311.91,967.54 L1312.91,967.56 L1313.91,967.58 L1314.91,967.60 L1315.91,967.62 L1316.91,967.64 L1317.91,967.65 L1318.91,967.67 L1319.91,967.69 L1320.91,967.71 L1321.92,967.73 L1322.92,967.75 L1323.92,967.76 L1324.92,967.78 L1325.92,967.80 L1326.92,967.82 L1327.92,967.84 L1328.92,967.85 L1329.93,967.87 L1330.93,967.89 L1331.93,967.91 L1332.93,967.92 L1333.93,967.94 L1334.93,967.96 L1335.93,967.97 L1336.94,967.99 L1337.94,968.01 L1338.94,968.03 L1339.94,968.04 L1340.94,968.06 L1341.94,968.08 L1342.95,968.09 L1343.95,968.11 L1344.95,968.12 L1345.95,968.14 L1346.95,968.16 L1347.95,968.17 L1348.96,968.19 L1349.96,968.21 L1350.96,968.22 L1351.96,968.24 L1352.96,968.25 L1353.97,968.27 L1354.97,968.28 L1355.97,968.30 L1356.97,968.32 L1357.97,968.33 L1358.98,968.35 L1359.98,968.36 L1360.98,968.38 L1361.98,968.39 L1362.98,968.41 L1363.99,968.42 L1364.99,968.44 L1365.99,968.45 L1366.99,968.47 L1368.00,968.48 L1369.00,968.50 L1370.00,968.51 L1371.00,968.53 L1372.01,968.54 L1373.01,968.56 L1374.01,968.57 L1375.01,968.59 L1376.02,968.60 L1377.02,968.62 L1378.02,968.63 L1379.02,968.64 L1380.03,968.66 L1381.03,968.67 L1382.03,968.69 L1383.04,968.70 L1384.04,968.72 L1385.04,968.73 L1386.04,968.74 L1387.05,968.76 L1388.05,968.77 L1389.05,968.79 L1390.06,968.80 L1391.06,968.81 L1392.06,968.83 L1393.07,968.84 L1394.07,968.85 L1395.07,968.87 L1396.08,968.88 L1397.08,968.90 L1398.08,968.91 L1399.09,968.92 L1400.09,968.94 L1401.09,968.95 L1402.10,968.96 L1403.10,968.98 L1404.10,968.99 L1405.11,969.01 L1406.11,969.02 L1407.11,969.03 L1408.12,969.05 L1409.12,969.06 L1410.13,969.07 L1411.13,969.09 L1412.13,969.10 L1413.14,969.11" fill="none" stroke="#2cdb2c" stroke-width="4.2" stroke-linejoin="round"/>
<path d="M173.01,966.50 L173.55,965.66 L174.11,964.83 L174.70,964.02 L175.31,963.22 L175.94,962.45 L176.58,961.68 L177.24,960.92 L177.91,960.17 L178.58,959.43 L179.26,958.69 L179.94,957.96 L180.62,957.22 L181.30,956.49 L181.98,955.75 L182.64,955.00 L183.30,954.25 L183.95,953.48 L184.58,952.71 L185.20,951.92 L185.80,951.13 L186.39,950.32 L186.97,949.50 L187.53,948.68 L188.08,947.84 L188.62,947.00 L189.15,946.14 L189.66,945.28 L190.16,944.41 L190.65,943.54 L191.13,942.66 L191.60,941.77 L192.06,940.87 L192.50,939.97 L192.94,939.07 L193.36,938.16 L193.78,937.24 L194.19,936.33 L194.58,935.41 L194.97,934.48 L195.35,933.55 L195.72,932.62 L196.08,931.69 L196.43,930.76 L196.78,929.82 L197.12,928.88 L197.44,927.94 L197.77,926.99 L198.08,926.04 L198.38,925.09 L198.68,924.14 L198.97,923.19 L199.26,922.23 L199.54,921.27 L199.81,920.31 L200.07,919.35 L200.33,918.39 L200.58,917.42 L200.83,916.45 L201.07,915.48 L201.30,914.51 L201.53,913.54 L201.76,912.57 L201.98,911.59 L202.19,910.61 L202.40,909.64 L202.60,908.66 L202.80,907.67 L203.00,906.69 L203.19,905.71 L203.37,904.73 L203.56,903.74 L203.74,902.76 L203.91,901.77 L204.08,900.78 L204.25,899.79 L204.42,898.80 L204.58,897.81 L204.74,896.82 L204.90,895.83 L205.05,894.84 L205.20,893.85 L205.35,892.86 L205.50,891.87 L205.65,890.87 L205.79,889.88 L205.94,888.89 L206.08,887.89 L206.22,886.90 L206.36,885.91 L206.49,884.92 L206.63,883.92 L206.76,882.93 L206.90,881.94 L207.03,880.94 L207.16,879.95 L207.29,878.95 L207.41,877.96 L207.54,876.97 L207.66,875.97 L207.79,874.98 L207.91,873.98 L208.03,872.99 L208.15,871.99 L208.27,871.00 L208.39,870.01 L208.51,869.01 L208.62,868.02 L208.74,867.02 L208.85,866.03 L208.96,865.03 L209.07,864.04 L209.18,863.04 L209.29,862.05 L209.40,861.05 L209.51,860.06 L209.61,859.06 L209.72,858.06 L209.82,857.07 L209.93,856.07 L210.03,855.08 L210.13,854.08 L210.23,853.09 L210.33,852.09 L210.43,851.09 L210.53,850.10 L210.63,849.10 L210.73,848.11 L210.83,847.11 L210.92,846.11 L211.02,845.12 L211.11,844.12 L211.21,843.13 L211.30,842.13 L211.40,841.13 L211.49,840.14 L211.58,839.14 L211.67,838.14 L211.76,837.15 L211.85,836.15 L211.94,835.15 L212.03,834.16 L212.12,833.16 L212.20,832.17 L212.29,831.17 L212.38,830.17 L212.46,829.18 L212.55,828.18 L212.63,827.18 L212.72,826.18 L212.80,825.19 L212.88,824.19 L212.97,823.19 L213.05,822.20 L213.13,821.20 L213.21,820.20 L213.29,819.21 L213.37,818.21 L213.45,817.21 L213.52,816.21 L213.60,815.22 L213.68,814.22 L213.76,813.22 L213.83,812.23 L213.91,811.23 L213.98,810.23 L214.06,809.23 L214.13,808.24 L214.21,807.24 L214.28,806.24 L214.35,805.24 L214.42,804.25 L214.49,803.25 L214.57,802.25 L214.64,801.25 L214.71,800.25 L214.78,799.26 L214.84,798.26 L214.91,797.26 L214.98,796.26 L215.05,795.27 L215.12,794.27 L215.18,793.27 L215.25,792.27 L215.32,791.27 L215.38,790.28 L215.45,789.28 L215.51,788.28 L215.57,787.28 L215.64,786.28 L215.70,785.29 L215.76,784.29 L215.83,783.29 L215.89,782.29 L215.95,781.29 L216.01,780.29 L216.07,779.30 L216.13,778.30 L216.19,777.30 L216.25,776.30 L216.31,775.30 L216.37,774.30 L216.43,773.31 L216.49,772.31 L216.55,771.31 L216.60,770.31 L216.66,769.31 L216.72,768.31 L216.77,767.31 L216.83,766.32 L216.89,765.32 L216.94,764.32 L217.00,763.32 L217.05,762.32 L217.10,761.32 L217.16,760.32 L217.21,759.32 L217.27,758.33 L217.32,757.33 L217.37,756.33 L217.42,755.33 L217.48,754.33 L217.53,753.33 L217.58,752.33 L217.63,751.33 L217.68,750.33 L217.73,749.34 L217.78,748.34 L217.83,747.34 L217.88,746.34 L217.93,745.34 L217.98,744.34 L218.03,743.34 L218.08,742.34 L218.13,741.34 L218.18,740.34 L218.22,739.34 L218.27,738.35 L218.32,737.35 L218.37,736.35 L218.41,735.35 L218.46,734.35 L218.51,733.35 L218.55,732.35 L218.60,731.35 L218.65,730.35 L218.69,729.35 L218.74,728.35 L218.78,727.35 L218.83,726.35 L218.87,725.35 L218.92,724.35 L218.96,723.35 L219.01,722.36 L219.05,721.36 L219.10,720.36 L219.14,719.36 L219.19,718.36 L219.23,717.36 L219.27,716.36 L219.32,715.36 L219.36,714.36 L219.40,713.36 L219.45,712.36 L219.49,711.36 L219.53,710.36 L219.57,709.36 L219.62,708.36 L219.66,707.36 L219.70,706.36 L219.74,705.36 L219.79,704.36 L219.83,703.36 L219.87,702.36 L219.91,701.36 L219.95,700.36 L219.99,699.36 L220.04,698.36 L220.08,697.36 L220.12,696.36 L220.16,695.36 L220.20,694.36 L220.24,693.36 L220.28,692.36 L220.33,691.36 L220.37,690.36 L220.41,689.37 L220.45,688.37 L220.49,687.37 L220.53,686.37 L220.57,685.37 L220.61,684.37 L220.65,683.37 L220.69,682.37 L220.73,681.37 L220.78,680.37 L220.82,679.37 L220.86,678.37 L220.90,677.37 L220.94,676.37 L220.98,675.37 L221.02,674.37 L221.06,673.37 L221.10,672.37 L221.14,671.37 L221.18,670.37 L221.22,669.37 L221.26,668.37 L221.31,667.37 L221.35,666.37 L221.39,665.37 L221.43,664.37 L221.47,663.37 L221.51,662.37 L221.55,661.37 L221.59,660.37 L221.64,659.37 L221.68,658.37 L221.72,657.37 L221.76,656.37 L221.80,655.37 L221.84,654.37 L221.89,653.37 L221.93,652.37 L221.97,651.37 L222.01,650.37 L222.06,649.37 L222.10,648.37 L222.14,647.37 L222.18,646.37 L222.23,645.37 L222.27,644.37 L222.31,643.37 L222.36,642.37 L222.40,641.37 L222.44,640.37 L222.49,639.37 L222.53,638.37 L222.57,637.37 L222.62,636.37 L222.66,635.37 L222.71,634.37 L222.75,633.37 L222.80,632.37 L222.84,631.37 L222.89,630.37 L222.93,629.37 L222.98,628.37 L223.02,627.37 L223.07,626.37 L223.12,625.37 L223.16,624.37 L223.21,623.37 L223.26,622.37 L223.30,621.37 L223.35,620.37 L223.40,619.37 L223.45,618.37 L223.49,617.37 L223.54,616.37 L223.59,615.37 L223.64,614.37 L223.69,613.37 L223.74,612.37 L223.79,611.37 L223.84,610.37 L223.89,609.37 L223.94,608.37 L223.99,607.37 L224.04,606.37 L224.09,605.37 L224.14,604.37 L224.19,603.37 L224.25,602.37 L224.30,601.37 L224.35,600.37 L224.41,599.37 L224.46,598.37 L224.51,597.37 L224.57,596.37 L224.62,595.37 L224.68,594.37 L224.73,593.37 L224.79,592.37 L224.84,591.37 L224.90,590.37 L224.95,589.37 L225.01,588.37 L225.07,587.37 L225.12,586.37 L225.18,585.37 L225.24,584.37 L225.30,583.37 L225.36,582.37 L225.42,581.37 L225.48,580.37 L225.54,579.38 L225.60,578.38 L225.66,577.38 L225.72,576.38 L225.78,575.38 L225.84,574.38 L225.90,573.38 L225.97,572.38 L226.03,571.38 L226.09,570.38 L226.16,569.38 L226.22,568.38 L226.29,567.38 L226.35,566.38 L226.42,565.38 L226.49,564.38 L226.55,563.39 L226.62,562.39 L226.69,561.39 L226.76,560.39 L226.82,559.39 L226.89,558.39 L226.96,557.39 L227.03,556.39 L227.10,555.39 L227.17,554.39 L227.25,553.39 L227.32,552.39 L227.39,551.40 L227.46,550.40 L227.54,549.40 L227.61,548.40 L227.69,547.40 L227.76,546.40 L227.84,545.40 L227.91,544.40 L227.99,543.40 L228.07,542.40 L228.14,541.41 L228.22,540.41 L228.30,539.41 L228.38,538.41 L228.46,537.41 L228.54,536.41 L228.62,535.41 L228.70,534.41 L228.79,533.42 L228.87,532.42 L228.95,531.42 L229.04,530.42 L229.12,529.42 L229.21,528.43 L229.29,527.43 L229.38,526.43 L229.47,525.43 L229.56,524.43 L229.65,523.44 L229.74,522.44 L229.83,521.44 L229.92,520.45 L230.02,519.45 L230.11,518.45 L230.21,517.45 L230.30,516.46 L230.40,515.46 L230.50,514.47 L230.59,513.47 L230.69,512.47 L230.79,511.48 L230.90,510.48 L231.00,509.49 L231.10,508.49 L231.21,507.50 L231.31,506.51 L231.42,505.51 L231.53,504.52 L231.64,503.52 L231.75,502.53 L231.86,501.54 L231.97,500.55 L232.09,499.55 L232.20,498.56 L232.32,497.57 L232.43,496.58 L232.55,495.59 L232.67,494.59 L232.79,493.60 L232.92,492.61 L233.04,491.62 L233.17,490.63 L233.29,489.64 L233.42,488.66 L233.55,487.67 L233.68,486.68 L233.81,485.69 L233.94,484.70 L234.08,483.72 L234.22,482.73 L234.35,481.74 L234.49,480.76 L234.63,479.77 L234.78,478.79 L234.92,477.80 L235.06,476.82 L235.21,475.83 L235.36,474.85 L235.51,473.87 L235.66,472.89 L235.81,471.90 L235.97,470.92 L236.13,469.94 L236.28,468.96 L236.45,467.98 L236.61,467.00 L236.78,466.02 L236.95,465.04 L237.12,464.06 L237.30,463.08 L237.48,462.10 L237.67,461.12 L237.86,460.15 L238.05,459.17 L238.26,458.19 L238.46,457.21 L238.67,456.23 L238.89,455.25 L239.11,454.27 L239.35,453.30 L239.58,452.32 L239.83,451.34 L240.08,450.36 L240.34,449.38 L240.60,448.40 L240.88,447.42 L241.16,446.44 L241.45,445.46 L241.75,444.48 L242.07,443.50 L242.39,442.52 L242.74,441.53 L243.11,440.55 L243.49,439.57 L243.90,438.58 L244.34,437.60 L244.81,436.62 L245.31,435.64 L245.84,434.71 L246.38,433.86 L246.94,433.16 L247.51,432.63 L248.08,432.33 L248.65,432.31 L249.22,432.55 L249.77,433.04 L250.31,433.71 L250.84,434.52 L251.36,435.43 L251.85,436.40 L252.33,437.38 L252.78,438.36 L253.22,439.34 L253.63,440.32 L254.03,441.29 L254.41,442.27 L254.78,443.24 L255.13,444.21 L255.46,445.18 L255.78,446.16 L256.09,447.13 L256.38,448.10 L256.66,449.07 L256.93,450.04 L257.19,451.01 L257.44,451.98 L257.68,452.95 L257.92,453.92 L258.14,454.89 L258.36,455.86 L258.57,456.83 L258.78,457.80 L258.99,458.78 L259.19,459.75 L259.38,460.73 L259.58,461.71 L259.77,462.68 L259.95,463.66 L260.13,464.64 L260.31,465.62 L260.48,466.60 L260.65,467.59 L260.82,468.57 L260.99,469.55 L261.15,470.54 L261.31,471.52 L261.46,472.51 L261.62,473.49 L261.77,474.48 L261.91,475.47 L262.06,476.46 L262.20,477.44 L262.34,478.43 L262.48,479.42 L262.61,480.41 L262.75,481.41 L262.88,482.40 L263.01,483.39 L263.13,484.38 L263.26,485.37 L263.38,486.37 L263.50,487.36 L263.62,488.35 L263.74,489.35 L263.86,490.34 L263.98,491.33 L264.09,492.33 L264.21,493.32 L264.32,494.32 L264.43,495.31 L264.54,496.31 L264.65,497.30 L264.76,498.30 L264.87,499.30 L264.98,500.29 L265.09,501.29 L265.19,502.28 L265.30,503.28 L265.41,504.27 L265.51,505.27 L265.62,506.27 L265.73,507.26 L265.83,508.26 L265.93,509.25 L266.04,510.25 L266.14,511.24 L266.25,512.24 L266.35,513.24 L266.45,514.23 L266.55,515.23 L266.65,516.22 L266.76,517.22 L266.86,518.22 L266.96,519.21 L267.06,520.21 L267.16,521.20 L267.26,522.20 L267.36,523.20 L267.46,524.19 L267.56,525.19 L267.65,526.19 L267.75,527.18 L267.85,528.18 L267.95,529.17 L268.05,530.17 L268.14,531.17 L268.24,532.16 L268.34,533.16 L268.43,534.16 L268.53,535.15 L268.63,536.15 L268.72,537.14 L268.82,538.14 L268.91,539.14 L269.01,540.13 L269.11,541.13 L269.20,542.13 L269.30,543.12 L269.39,544.12 L269.49,545.12 L269.58,546.11 L269.67,547.11 L269.77,548.10 L269.86,549.10 L269.96,550.10 L270.05,551.09 L270.15,552.09 L270.24,553.09 L270.33,554.08 L270.43,555.08 L270.52,556.08 L270.62,557.07 L270.71,558.07 L270.80,559.06 L270.90,560.06 L270.99,561.06 L271.09,562.05 L271.18,563.05 L271.27,564.05 L271.37,565.04 L271.46,566.04 L271.55,567.03 L271.65,568.03 L271.74,569.03 L271.84,570.02 L271.93,571.02 L272.03,572.02 L272.12,573.01 L272.21,574.01 L272.31,575.00 L272.40,576.00 L272.50,577.00 L272.59,577.99 L272.69,578.99 L272.78,579.99 L272.88,580.98 L272.98,581.98 L273.07,582.97 L273.17,583.97 L273.26,584.97 L273.36,585.96 L273.46,586.96 L273.55,587.95 L273.65,588.95 L273.75,589.95 L273.84,590.94 L273.94,591.94 L274.04,592.93 L274.14,593.93 L274.23,594.92 L274.33,595.92 L274.43,596.92 L274.53,597.91 L274.63,598.91 L274.73,599.90 L274.83,600.90 L274.92,601.89 L275.02,602.89 L275.12,603.88 L275.22,604.88 L275.32,605.88 L275.42,606.87 L275.53,607.87 L275.63,608.86 L275.73,609.86 L275.83,610.85 L275.93,611.85 L276.03,612.84 L276.13,613.84 L276.24,614.83 L276.34,615.83 L276.44,616.82 L276.54,617.82 L276.65,618.82 L276.75,619.81 L276.85,620.81 L276.96,621.80 L277.06,622.80 L277.17,623.79 L277.27,624.79 L277.38,625.78 L277.48,626.78 L277.59,627.77 L277.69,628.77 L277.80,629.76 L277.90,630.75 L278.01,631.75 L278.12,632.74 L278.22,633.74 L278.33,634.73 L278.44,635.73 L278.54,636.72 L278.65,637.72 L278.76,638.71 L278.87,639.71 L278.98,640.70 L279.09,641.70 L279.20,642.69 L279.30,643.69 L279.41,644.68 L279.52,645.67 L279.63,646.67 L279.75,647.66 L279.86,648.66 L279.97,649.65 L280.08,650.65 L280.19,651.64 L280.30,652.63 L280.41,653.63 L280.53,654.62 L280.64,655.62 L280.75,656.61 L280.87,657.60 L280.98,658.60 L281.09,659.59 L281.21,660.59 L281.32,661.58 L281.44,662.57 L281.55,663.57 L281.67,664.56 L281.79,665.56 L281.90,666.55 L282.02,667.54 L282.13,668.54 L282.25,669.53 L282.37,670.52 L282.49,671.52 L282.61,672.51 L282.72,673.51 L282.84,674.50 L282.96,675.49 L283.08,676.49 L283.20,677.48 L283.32,678.47 L283.44,679.47 L283.56,680.46 L283.68,681.45 L283.80,682.45 L283.93,683.44 L284.05,684.43 L284.17,685.42 L284.29,686.42 L284.42,687.41 L284.54,688.40 L284.66,689.40 L284.79,690.39 L284.91,691.38 L285.04,692.38 L285.16,693.37 L285.29,694.36 L285.41,695.35 L285.54,696.35 L285.67,697.34 L285.79,698.33 L285.92,699.32 L286.05,700.32 L286.18,701.31 L286.31,702.30 L286.44,703.29 L286.56,704.29 L286.69,705.28 L286.82,706.27 L286.95,707.26 L287.09,708.26 L287.22,709.25 L287.35,710.24 L287.48,711.23 L287.61,712.22 L287.75,713.22 L287.88,714.21 L288.01,715.20 L288.15,716.19 L288.28,717.18 L288.41,718.18 L288.55,719.17 L288.69,720.16 L288.82,721.15 L288.96,722.14 L289.09,723.14 L289.23,724.13 L289.37,725.12 L289.51,726.11 L289.64,727.10 L289.78,728.09 L289.92,729.08 L290.06,730.08 L290.20,731.07 L290.34,732.06 L290.48,733.05 L290.62,734.04 L290.77,735.03 L290.91,736.02 L291.05,737.01 L291.19,738.01 L291.34,739.00 L291.48,739.99 L291.63,740.98 L291.77,741.97 L291.92,742.96 L292.06,743.95 L292.21,744.94 L292.35,745.93 L292.50,746.92 L292.65,747.91 L292.80,748.90 L292.94,749.89 L293.09,750.89 L293.24,751.88 L293.39,752.87 L293.54,753.86 L293.69,754.85 L293.84,755.84 L293.99,756.83 L294.14,757.82 L294.30,758.81 L294.45,759.80 L294.60,760.79 L294.75,761.78 L294.91,762.77 L295.06,763.75 L295.22,764.74 L295.37,765.73 L295.53,766.72 L295.68,767.71 L295.84,768.70 L295.99,769.69 L296.15,770.68 L296.31,771.67 L296.47,772.66 L296.62,773.64 L296.78,774.63 L296.94,775.62 L297.10,776.61 L297.26,777.60 L297.42,778.58 L297.58,779.57 L297.74,780.56 L297.90,781.55 L298.06,782.53 L298.22,783.52 L298.39,784.51 L298.55,785.50 L298.71,786.48 L298.87,787.47 L299.04,788.46 L299.20,789.44 L299.37,790.43 L299.53,791.41 L299.69,792.40 L299.86,793.39 L300.03,794.37 L300.19,795.36 L300.36,796.34 L300.52,797.33 L300.69,798.31 L300.86,799.30 L301.03,800.28 L301.19,801.27 L301.36,802.25 L301.53,803.24 L301.70,804.22 L301.87,805.20 L302.04,806.19 L302.21,807.17 L302.38,808.15 L302.55,809.14 L302.72,810.12 L302.90,811.10 L303.07,812.08 L303.25,813.06 L303.43,814.05 L303.61,815.03 L303.79,816.01 L303.98,816.99 L304.17,817.97 L304.36,818.94 L304.56,819.92 L304.76,820.90 L304.96,821.88 L305.17,822.85 L305.38,823.83 L305.60,824.81 L305.82,825.78 L306.04,826.75 L306.27,827.73 L306.50,828.70 L306.74,829.67 L306.98,830.64 L307.23,831.61 L307.48,832.58 L307.73,833.55 L307.99,834.52 L308.25,835.48 L308.52,836.45 L308.79,837.42 L309.06,838.38 L309.34,839.34 L309.62,840.31 L309.91,841.27 L310.19,842.23 L310.49,843.19 L310.78,844.15 L311.08,845.11 L311.38,846.07 L311.69,847.02 L312.00,847.98 L312.31,848.93 L312.63,849.89 L312.95,850.84 L313.27,851.79 L313.59,852.74 L313.92,853.69 L314.25,854.64 L314.59,855.59 L314.93,856.53 L315.27,857.48 L315.61,858.43 L315.96,859.37 L316.30,860.31 L316.66,861.25 L317.01,862.19 L317.37,863.13 L317.73,864.07 L318.09,865.01 L318.45,865.94 L318.82,866.88 L319.19,867.81 L319.56,868.74 L319.94,869.67 L320.31,870.60 L320.69,871.53 L321.07,872.46 L321.45,873.39 L321.84,874.31 L322.22,875.24 L322.61,876.16 L323.00,877.08 L323.40,878.00 L323.79,878.92 L324.19,879.83 L324.59,880.75 L324.99,881.67 L325.39,882.58 L325.79,883.49 L326.19,884.40 L326.60,885.31 L327.01,886.22 L327.42,887.12 L327.84,888.03 L328.25,888.93 L328.67,889.83 L329.10,890.72 L329.53,891.61 L329.96,892.50 L330.40,893.39 L330.85,894.27 L331.30,895.14 L331.76,896.02 L332.23,896.88 L332.70,897.75 L333.18,898.60 L333.67,899.45 L334.17,900.30 L334.68,901.14 L335.20,901.97 L335.72,902.80 L336.26,903.62 L336.81,904.44 L337.37,905.24 L337.94,906.04 L338.53,906.83 L339.12,907.62 L339.73,908.39 L340.35,909.16 L340.99,909.92 L341.64,910.67 L342.30,911.41 L342.98,912.14 L343.68,912.86 L344.39,913.57 L345.11,914.27 L345.85,914.96 L346.60,915.64 L347.37,916.32 L348.14,916.98 L348.93,917.64 L349.72,918.29 L350.53,918.93 L351.34,919.56 L352.15,920.19 L352.98,920.80 L353.80,921.42 L354.63,922.02 L355.47,922.62 L356.30,923.22 L357.14,923.80 L357.98,924.38 L358.83,924.96 L359.67,925.53 L360.52,926.09 L361.37,926.65 L362.22,927.20 L363.08,927.75 L363.94,928.29 L364.80,928.83 L365.66,929.36 L366.52,929.88 L367.39,930.40 L368.26,930.91 L369.13,931.42 L370.00,931.92 L370.87,932.42 L371.75,932.91 L372.63,933.40 L373.51,933.88 L374.39,934.35 L375.28,934.82 L376.17,935.29 L377.06,935.75 L377.95,936.20 L378.84,936.65 L379.74,937.09 L380.63,937.53 L381.53,937.97 L382.43,938.40 L383.34,938.82 L384.24,939.24 L385.15,939.66 L386.05,940.06 L386.96,940.47 L387.88,940.87 L388.79,941.27 L389.71,941.66 L390.62,942.04 L391.54,942.42 L392.46,942.80 L393.38,943.17 L394.31,943.54 L395.23,943.90 L396.16,944.26 L397.09,944.62 L398.02,944.97 L398.95,945.31 L399.88,945.66 L400.82,945.99 L401.75,946.33 L402.69,946.65 L403.63,946.98 L404.57,947.30 L405.51,947.62 L406.46,947.93 L407.40,948.24 L408.35,948.54 L409.30,948.84 L410.24,949.14 L411.20,949.43 L412.15,949.72 L413.10,950.01 L414.05,950.29 L415.01,950.56 L415.97,950.84 L416.92,951.11 L417.88,951.38 L418.84,951.64 L419.80,951.90 L420.77,952.15 L421.73,952.41 L422.69,952.66 L423.66,952.90 L424.63,953.14 L425.60,953.38 L426.56,953.62 L427.53,953.85 L428.51,954.08 L429.48,954.31 L430.45,954.53 L431.42,954.75 L432.40,954.96 L433.37,955.18 L434.35,955.39 L435.33,955.60 L436.31,955.80 L437.28,956.00 L438.26,956.20 L439.24,956.40 L440.23,956.59 L441.21,956.78 L442.19,956.97 L443.17,957.15 L444.16,957.33 L445.14,957.51 L446.13,957.69 L447.12,957.86 L448.10,958.04 L449.09,958.20 L450.08,958.37 L451.07,958.54 L452.06,958.70 L453.05,958.86 L454.04,959.01 L455.03,959.17 L456.02,959.32 L457.01,959.47 L458.00,959.62 L458.99,959.77 L459.99,959.91 L460.98,960.05 L461.97,960.19 L462.97,960.33 L463.96,960.47 L464.96,960.60 L465.95,960.73 L466.95,960.87 L467.94,960.99 L468.94,961.12 L469.93,961.25 L470.93,961.37 L471.93,961.49 L472.92,961.61 L473.92,961.73 L474.91,961.85 L475.91,961.96 L476.91,962.07 L477.91,962.19 L478.90,962.30 L479.90,962.41 L480.90,962.51 L481.89,962.62 L482.89,962.73 L483.89,962.83 L484.89,962.93 L485.88,963.03 L486.88,963.13 L487.88,963.23 L488.88,963.33 L489.87,963.42 L490.87,963.52 L491.87,963.61 L492.87,963.70 L493.86,963.79 L494.86,963.88 L495.86,963.97 L496.86,964.06 L497.85,964.14 L498.85,964.23 L499.85,964.31 L500.85,964.39 L501.85,964.47 L502.84,964.55 L503.84,964.63 L504.84,964.71 L505.84,964.79 L506.84,964.86 L507.84,964.93 L508.83,965.01 L509.83,965.08 L510.83,965.15 L511.83,965.22 L512.83,965.29 L513.83,965.35 L514.83,965.42 L515.82,965.48 L516.82,965.55 L517.82,965.61 L518.82,965.67 L519.82,965.73 L520.82,965.79 L521.82,965.85 L522.82,965.91 L523.81,965.97 L524.81,966.02 L525.81,966.08 L526.81,966.13 L527.81,966.18 L528.81,966.24 L529.81,966.29 L530.81,966.34 L531.81,966.39 L532.81,966.43 L533.80,966.48 L534.80,966.53 L535.80,966.57 L536.80,966.62 L537.80,966.66 L538.80,966.71 L539.80,966.75 L540.80,966.79 L541.80,966.83 L542.80,966.87 L543.80,966.91 L544.80,966.95 L545.80,966.99 L546.80,967.03 L547.80,967.06 L548.80,967.10 L549.80,967.13 L550.80,967.17 L551.80,967.20 L552.80,967.23 L553.80,967.27 L554.80,967.30 L555.80,967.33 L556.80,967.36 L557.80,967.39 L558.80,967.42 L559.80,967.45 L560.80,967.47 L561.80,967.50 L562.80,967.53 L563.80,967.55 L564.80,967.58 L565.80,967.60 L566.80,967.63 L567.80,967.65 L568.80,967.67 L569.80,967.70 L570.80,967.72 L571.80,967.74 L572.80,967.76 L573.80,967.78 L574.80,967.80 L575.80,967.82 L576.80,967.84 L577.80,967.86 L578.80,967.88 L579.80,967.90 L580.80,967.92 L581.80,967.93 L582.80,967.95 L583.80,967.97 L584.80,967.99 L585.80,968.00 L586.80,968.02 L587.80,968.03 L588.80,968.05 L589.80,968.06 L590.80,968.08 L591.80,968.09 L592.80,968.10 L593.80,968.12 L594.80,968.13 L595.80,968.14 L596.81,968.16 L597.81,968.17 L598.81,968.18 L599.81,968.19 L600.81,968.21 L601.81,968.22 L602.81,968.23 L603.81,968.24 L604.81,968.25 L605.81,968.26 L606.81,968.27 L607.81,968.28 L608.81,968.30 L609.81,968.31 L610.81,968.32 L611.81,968.33 L612.81,968.34 L613.82,968.35 L614.82,968.36 L615.82,968.37 L616.82,968.38 L617.82,968.39 L618.82,968.40 L619.82,968.41 L620.82,968.42 L621.82,968.43 L622.82,968.44 L623.82,968.45 L624.82,968.46 L625.82,968.47 L626.82,968.48 L627.82,968.49 L628.82,968.50 L629.83,968.51 L630.83,968.52 L631.83,968.53 L632.83,968.54 L633.83,968.55 L634.83,968.56 L635.83,968.57 L636.83,968.58 L637.83,968.59 L638.83,968.60 L639.83,968.61 L640.83,968.62 L641.83,968.63 L642.83,968.64 L643.83,968.65 L644.83,968.66 L645.84,968.67 L646.84,968.68 L647.84,968.69 L648.84,968.70 L649.84,968.71 L650.84,968.72 L651.84,968.73 L652.84,968.74 L653.84,968.75 L654.84,968.76 L655.84,968.77 L656.84,968.78 L657.84,968.79 L658.84,968.80 L659.84,968.81 L660.85,968.82 L661.85,968.83 L662.85,968.84 L663.85,968.85 L664.85,968.86 L665.85,968.87 L666.85,968.88 L667.85,968.89 L668.85,968.90 L669.85,968.91 L670.85,968.92 L671.85,968.93 L672.85,968.94 L673.85,968.95 L674.85,968.96 L675.86,968.97 L676.86,968.98 L677.86,968.99 L678.86,969.00 L679.86,969.01 L680.86,969.02 L681.86,969.03 L682.86,969.04 L683.86,969.05 L684.86,969.06 L685.86,969.07 L686.86,969.08 L687.86,969.09 L688.86,969.10 L689.87,969.11 L690.87,969.12 L691.87,969.12 L692.87,969.13 L693.87,969.14 L694.87,969.15 L695.87,969.16 L696.87,969.17 L697.87,969.18 L698.87,969.19 L699.87,969.20 L700.87,969.21 L701.87,969.22 L702.87,969.23 L703.87,969.24 L704.88,969.24 L705.88,969.25 L706.88,969.26 L707.88,969.27 L708.88,969.28 L709.88,969.29 L710.88,969.30 L711.88,969.31 L712.88,969.32 L713.88,969.33 L714.88,969.33 L715.88,969.34 L716.88,969.35 L717.88,969.36 L718.89,969.37 L719.89,969.38 L720.89,969.39 L721.89,969.39 L722.89,969.40 L723.89,969.41 L724.89,969.42 L725.89,969.43 L726.89,969.44 L727.89,969.44 L728.89,969.45 L729.89,969.46 L730.89,969.47 L731.89,969.48 L732.89,969.49 L733.90,969.49 L734.90,969.50 L735.90,969.51 L736.90,969.52 L737.90,969.53 L738.90,969.53 L739.90,969.54 L740.90,969.55 L741.90,969.56 L742.90,969.56 L743.90,969.57 L744.90,969.58 L745.90,969.59 L746.90,969.59 L747.91,969.60 L748.91,969.61 L749.91,969.62 L750.91,969.62 L751.91,969.63 L752.91,969.64 L753.91,969.64 L754.91,969.65 L755.91,969.66 L756.91,969.67 L757.91,969.67 L758.91,969.68 L759.91,969.69 L760.91,969.69 L761.92,969.70 L762.92,969.71 L763.92,969.71 L764.92,969.72 L765.92,969.73 L766.92,969.73 L767.92,969.74 L768.92,969.74 L769.92,969.75 L770.92,969.76 L771.92,969.76 L772.92,969.77 L773.92,969.77 L774.92,969.78 L775.92,969.79 L776.93,969.79 L777.93,969.80 L778.93,969.80 L779.93,969.81 L780.93,969.82 L781.93,969.82 L782.93,969.83 L783.93,969.83 L784.93,969.84 L785.93,969.84 L786.93,969.85 L787.93,969.85 L788.93,969.86 L789.93,969.86 L790.94,969.87 L791.94,969.87 L792.94,969.88 L793.94,969.88 L794.94,969.89 L795.94,969.89 L796.94,969.90 L797.94,969.90 L798.94,969.90 L799.94,969.91 L800.94,969.91 L801.94,969.92 L802.94,969.92 L803.94,969.92 L804.95,969.93 L805.95,969.93 L806.95,969.94 L807.95,969.94 L808.95,969.94 L809.95,969.95 L810.95,969.95 L811.95,969.95 L812.95,969.96 L813.95,969.96 L814.95,969.96 L815.95,969.97 L816.95,969.97 L817.95,969.97 L818.95,969.98 L819.96,969.98 L820.96,969.98 L821.96,969.98 L822.96,969.99 L823.96,969.99 L824.96,969.99 L825.96,969.99 L826.96,970.00 L827.96,970.00 L828.96,970.00 L829.96,970.00 L830.96,970.00 L831.96,970.01 L832.96,970.01 L833.97,970.01 L834.97,970.01 L835.97,970.01 L836.97,970.01 L837.97,970.01 L838.97,970.02 L839.97,970.02 L840.97,970.02 L841.97,970.02 L842.97,970.02 L843.97,970.02 L844.97,970.02 L845.97,970.02 L846.97,970.02 L847.97,970.02 L848.98,970.02 L849.98,970.02 L850.98,970.02 L851.98,970.02 L852.98,970.02 L853.98,970.02 L854.98,970.02 L855.98,970.02 L856.98,970.02 L857.98,970.02 L858.98,970.02 L859.98,970.02 L860.98,970.02 L861.98,970.02 L862.99,970.02 L863.99,970.02 L864.99,970.01 L865.99,970.01 L866.99,970.01 L867.99,970.01 L868.99,970.01 L869.99,970.01 L870.99,970.01 L871.99,970.00 L872.99,970.00 L873.99,970.00 L874.99,970.00 L875.99,969.99 L876.99,969.99 L878.00,969.99 L879.00,969.99 L880.00,969.98 L881.00,969.98 L882.00,969.98 L883.00,969.98 L884.00,969.97 L885.00,969.97" fill="none" stroke="#000" stroke-width="4.2" stroke-linejoin="round"/>
<path d="M174.77,950.07 L174.86,950.04 L175.76,949.63 L176.67,949.21 L177.58,948.79 L178.48,948.37 L179.38,947.94 L180.28,947.50 L181.17,947.07 L182.07,946.62 L182.96,946.17 L183.85,945.72 L184.74,945.26 L185.62,944.80 L186.51,944.33 L187.39,943.86 L187.48,943.81 M206.96,931.91 L207.05,931.85 L207.87,931.28 L208.70,930.71 L209.52,930.13 L210.34,929.55 L211.16,928.97 L211.97,928.39 L212.78,927.80 L213.59,927.21 L214.40,926.61 L215.21,926.01 L216.01,925.41 L216.81,924.81 L217.61,924.20 L218.41,923.59 L219.20,922.98 L219.99,922.37 L220.78,921.75 L220.86,921.68 M238.38,907.13 L238.45,907.06 L239.22,906.42 L239.98,905.78 L240.75,905.14 L241.51,904.50 L242.28,903.87 L243.05,903.23 L243.81,902.60 L244.59,901.97 L245.36,901.34 L246.13,900.72 L246.91,900.09 L247.69,899.47 L248.47,898.86 L249.25,898.24 L250.04,897.63 L250.82,897.03 L250.90,896.97 M271.72,883.53 L271.82,883.48 L272.73,883.02 L273.64,882.57 L274.56,882.12 L275.48,881.68 L276.40,881.25 L277.33,880.82 L278.26,880.39 L279.19,879.96 L280.12,879.53 L281.05,879.11 L281.98,878.68 L282.91,878.26 L283.84,877.83 L284.77,877.40 L285.69,876.97 L286.61,876.53 L287.52,876.09 L288.44,875.65 L288.53,875.60 M306.00,863.30 L306.05,863.25 L306.69,862.50 L307.31,861.74 L307.92,860.96 L308.51,860.16 L309.08,859.35 L309.64,858.53 L310.19,857.69 L310.72,856.84 L311.24,855.98 L311.75,855.11 L312.24,854.23 L312.73,853.33 L313.20,852.44 L313.67,851.53 L314.12,850.62 L314.57,849.70 L315.01,848.78 L315.44,847.85 L315.49,847.74 M324.45,823.37 L324.48,823.28 L324.75,822.31 L325.02,821.35 L325.29,820.39 L325.55,819.42 L325.80,818.46 L326.06,817.49 L326.30,816.52 L326.55,815.55 L326.79,814.58 L327.02,813.61 L327.25,812.64 L327.48,811.67 L327.70,810.70 L327.92,809.72 L328.13,808.75 L328.35,807.77 L328.55,806.80 L328.76,805.82 L328.78,805.72 M332.91,781.31 L332.93,781.21 L333.06,780.22 L333.20,779.23 L333.34,778.24 L333.47,777.25 L333.60,776.26 L333.73,775.27 L333.86,774.28 L333.98,773.29 L334.11,772.30 L334.23,771.31 L334.35,770.32 L334.47,769.33 L334.59,768.33 L334.71,767.34 L334.83,766.35 L334.94,765.36 L334.96,765.26 M337.67,738.60 L337.68,738.50 L337.77,737.51 L337.87,736.51 L337.96,735.51 L338.05,734.52 L338.13,733.52 L338.22,732.52 L338.31,731.53 L338.40,730.53 L338.49,729.53 L338.58,728.53 L338.66,727.54 L338.75,726.54 L338.84,725.54 L338.93,724.55 L339.01,723.55 L339.10,722.55 L339.11,722.45 M341.15,698.71 L341.16,698.61 L341.24,697.62 L341.32,696.62 L341.40,695.62 L341.49,694.62 L341.57,693.62 L341.65,692.63 L341.73,691.63 L341.81,690.63 L341.89,689.63 L341.97,688.64 L342.05,687.64 L342.13,686.64 L342.21,685.64 L342.29,684.64 L342.36,683.65 L342.44,682.65 L342.52,681.65 L342.59,680.65 L342.67,679.65 L342.68,679.55 M344.46,653.81 L344.47,653.71 L344.53,652.71 L344.60,651.71 L344.66,650.72 L344.72,649.72 L344.78,648.72 L344.84,647.72 L344.90,646.72 L344.96,645.73 L345.02,644.73 L345.08,643.73 L345.14,642.73 L345.20,641.73 L345.26,640.73 L345.31,639.74 L345.37,638.74 L345.43,637.74 L345.43,637.64 M346.78,611.88 L346.78,611.78 L346.83,610.79 L346.88,609.79 L346.93,608.79 L346.97,607.79 L347.02,606.79 L347.07,605.79 L347.11,604.79 L347.16,603.79 L347.21,602.80 L347.25,601.80 L347.30,600.80 L347.34,599.80 L347.39,598.80 L347.43,597.80 L347.47,596.80 L347.52,595.80 L347.56,594.81 L347.57,594.71 M348.62,568.93 L348.62,568.83 L348.66,567.83 L348.70,566.83 L348.74,565.83 L348.78,564.83 L348.81,563.83 L348.85,562.83 L348.89,561.83 L348.93,560.83 L348.96,559.83 L349.00,558.83 L349.04,557.83 L349.08,556.83 L349.11,555.83 L349.15,554.83 L349.19,553.83 L349.22,552.83 L349.23,552.73 M350.12,526.93 L350.12,526.83 L350.16,525.83 L350.19,524.83 L350.22,523.82 L350.25,522.82 L350.29,521.82 L350.32,520.82 L350.35,519.82 L350.39,518.82 L350.42,517.82 L350.45,516.82 L350.48,515.82 L350.51,514.82 L350.55,513.82 L350.58,512.82 L350.61,511.82 L350.64,510.82 L350.67,509.82 L350.68,509.72 M351.47,483.90 L351.47,483.80 L351.50,482.80 L351.53,481.80 L351.56,480.79 L351.59,479.79 L351.62,478.79 L351.65,477.79 L351.68,476.79 L351.71,475.79 L351.74,474.79 L351.77,473.79 L351.80,472.79 L351.83,471.79 L351.86,470.79 L351.89,469.79 L351.92,468.78 L351.95,467.78 L351.97,466.78 L351.98,466.68 M352.69,441.86 L352.70,441.76 L352.73,440.76 L352.76,439.76 L352.78,438.76 L352.81,437.76 L352.84,436.76 L352.87,435.76 L352.90,434.76 L352.93,433.76 L352.96,432.76 L352.99,431.76 L353.01,430.75 L353.04,429.75 L353.07,428.75 L353.10,427.75 L353.13,426.75 L353.16,425.75 L353.19,424.75 L353.22,423.75 L353.22,423.65 M353.95,398.84 L353.95,398.74 L353.98,397.74 L354.01,396.74 L354.04,395.74 L354.07,394.74 L354.10,393.74 L354.13,392.74 L354.16,391.74 L354.19,390.74 L354.22,389.74 L354.25,388.74 L354.28,387.74 L354.31,386.74 L354.34,385.74 L354.37,384.74 L354.40,383.74 L354.43,382.74 L354.46,381.74 L354.46,381.64 M355.25,356.86 L355.25,356.76 L355.29,355.76 L355.32,354.76 L355.35,353.76 L355.39,352.76 L355.42,351.76 L355.45,350.76 L355.49,349.76 L355.52,348.77 L355.55,347.77 L355.59,346.77 L355.62,345.77 L355.66,344.77 L355.69,343.77 L355.72,342.77 L355.76,341.78 L355.79,340.78 L355.83,339.78 L355.86,338.78 L355.87,338.68 M356.76,313.93 L356.76,313.83 L356.80,312.83 L356.83,311.83 L356.87,310.83 L356.91,309.83 L356.94,308.84 L356.98,307.84 L357.02,306.84 L357.05,305.84 L357.09,304.84 L357.13,303.85 L357.17,302.85 L357.20,301.85 L357.24,300.85 L357.28,299.85 L357.31,298.85 L357.35,297.86 L357.39,296.86 L357.39,296.76 M358.29,271.98 L358.29,271.88 L358.33,270.88 L358.36,269.88 L358.40,268.88 L358.43,267.88 L358.47,266.88 L358.50,265.88 L358.54,264.88 L358.57,263.88 L358.60,262.88 L358.64,261.88 L358.67,260.88 L358.71,259.88 L358.74,258.87 L358.77,257.87 L358.81,256.87 L358.84,255.87 L358.87,254.87 L358.91,253.87 L358.91,253.76 M359.63,229.89 L359.64,229.79 L359.66,228.78 L359.69,227.78 L359.72,226.77 L359.74,225.76 L359.77,224.76 L359.80,223.75 L359.82,222.75 L359.85,221.74 L359.87,220.73 L359.90,219.73 L359.92,218.72 L359.95,217.71 L359.97,216.70 L360.00,215.70 L360.02,214.69 L360.04,213.68 L360.07,212.67 L360.07,212.56 M360.61,187.59 L360.62,187.49 L360.64,186.49 L360.67,185.49 L360.69,184.49 L360.72,183.49 L360.74,182.49 L360.77,181.49 L360.80,180.49 L360.83,179.49 L360.86,178.50 L360.89,177.50 L360.92,176.51 L360.95,175.52 L360.98,174.53 L361.02,173.54 L361.05,172.55 L361.09,171.56 L361.12,170.57 L361.16,169.59 L361.16,169.50 M362.60,144.59 L362.60,144.55 L362.68,143.61 L362.75,142.67 L362.83,141.72 L362.90,140.76 L362.97,139.80 L363.04,138.82 L363.10,137.83 L363.16,136.82 L363.21,135.80 L363.26,134.75 L363.29,133.68 L363.32,132.59 L363.34,131.47 L363.35,130.31 L363.35,129.13 L363.34,127.91 L363.31,126.66 L363.30,126.27 M365.58,102.00 L365.75,102.09 L366.33,102.51 L366.93,103.07 L367.51,103.75 L368.04,104.52 L368.52,105.38 L368.94,106.30 L369.32,107.28 L369.37,107.43 M371.94,132.34 L371.94,132.43 L371.94,133.42 L371.94,134.41 L371.95,135.40 L371.96,136.39 L371.97,137.39 L371.98,138.38 L371.99,139.37 L372.01,140.36 L372.03,141.36 L372.04,142.35 L372.06,143.35 L372.08,144.34 L372.11,145.33 L372.13,146.33 L372.16,147.32 L372.18,148.32 L372.21,149.31 L372.21,149.41 M373.28,175.17 L373.28,175.27 L373.33,176.28 L373.39,177.28 L373.44,178.28 L373.49,179.28 L373.54,180.28 L373.59,181.28 L373.64,182.28 L373.70,183.28 L373.75,184.28 L373.80,185.28 L373.85,186.28 L373.91,187.28 L373.96,188.28 L374.01,189.29 L374.06,190.29 L374.12,191.29 L374.17,192.29 L374.17,192.39 M375.41,217.20 L375.41,217.30 L375.46,218.30 L375.51,219.30 L375.55,220.30 L375.60,221.30 L375.65,222.30 L375.69,223.30 L375.74,224.30 L375.79,225.30 L375.83,226.30 L375.88,227.30 L375.93,228.30 L375.97,229.30 L376.02,230.30 L376.06,231.30 L376.11,232.30 L376.15,233.30 L376.20,234.30 L376.20,234.40 M377.29,259.19 L377.29,259.29 L377.34,260.29 L377.38,261.29 L377.42,262.29 L377.46,263.29 L377.50,264.29 L377.55,265.29 L377.59,266.29 L377.63,267.29 L377.67,268.29 L377.71,269.29 L377.76,270.29 L377.80,271.29 L377.84,272.29 L377.88,273.29 L377.92,274.29 L377.96,275.29 L378.01,276.29 L378.05,277.28 L378.09,278.28 L378.09,278.38 M379.02,301.17 L379.03,301.27 L379.07,302.27 L379.11,303.27 L379.15,304.27 L379.19,305.27 L379.23,306.27 L379.27,307.27 L379.31,308.27 L379.35,309.27 L379.39,310.27 L379.44,311.27 L379.48,312.27 L379.52,313.27 L379.56,314.27 L379.60,315.26 L379.64,316.26 L379.68,317.26 L379.72,318.26 L379.76,319.26 L379.80,320.26 L379.80,320.36 M380.77,344.15 L380.77,344.25 L380.82,345.25 L380.86,346.25 L380.90,347.25 L380.94,348.25 L380.98,349.25 L381.02,350.25 L381.06,351.25 L381.10,352.25 L381.14,353.25 L381.18,354.25 L381.22,355.25 L381.26,356.25 L381.31,357.25 L381.35,358.25 L381.39,359.25 L381.43,360.25 L381.47,361.25 L381.51,362.25 L381.55,363.25 L381.55,363.35 M382.50,386.14 L382.50,386.24 L382.54,387.24 L382.58,388.24 L382.63,389.24 L382.67,390.24 L382.71,391.24 L382.75,392.24 L382.79,393.24 L382.83,394.24 L382.88,395.24 L382.92,396.24 L382.96,397.24 L383.00,398.23 L383.04,399.23 L383.09,400.23 L383.13,401.23 L383.17,402.23 L383.21,403.23 L383.25,404.23 L383.30,405.23 L383.30,405.33 M384.32,429.13 L384.32,429.23 L384.37,430.23 L384.41,431.23 L384.45,432.22 L384.50,433.22 L384.54,434.22 L384.58,435.22 L384.63,436.22 L384.67,437.22 L384.72,438.22 L384.76,439.22 L384.80,440.22 L384.85,441.22 L384.89,442.22 L384.94,443.22 L384.98,444.22 L385.02,445.22 L385.07,446.22 L385.11,447.22 L385.12,447.32 M386.24,472.11 L386.24,472.21 L386.29,473.21 L386.33,474.21 L386.38,475.21 L386.43,476.21 L386.47,477.21 L386.52,478.21 L386.56,479.21 L386.61,480.21 L386.66,481.21 L386.70,482.21 L386.75,483.21 L386.80,484.21 L386.84,485.21 L386.89,486.21 L386.94,487.21 L386.99,488.20 L387.03,489.20 L387.08,490.20 L387.09,490.30 M388.29,515.09 L388.29,515.19 L388.34,516.19 L388.39,517.19 L388.44,518.19 L388.49,519.19 L388.54,520.19 L388.59,521.19 L388.64,522.19 L388.69,523.19 L388.74,524.19 L388.79,525.19 L388.84,526.19 L388.89,527.18 L388.94,528.18 L388.99,529.18 L389.04,530.18 L389.09,531.18 L389.10,531.28 M390.45,557.06 L390.46,557.16 L390.51,558.16 L390.57,559.16 L390.62,560.16 L390.67,561.16 L390.73,562.16 L390.78,563.16 L390.84,564.16 L390.89,565.16 L390.95,566.16 L391.00,567.15 L391.06,568.15 L391.12,569.15 L391.17,570.15 L391.23,571.15 L391.28,572.15 L391.34,573.15 L391.40,574.15 L391.40,574.25 M392.92,600.02 L392.92,600.12 L392.98,601.12 L393.05,602.12 L393.11,603.12 L393.17,604.11 L393.23,605.11 L393.29,606.11 L393.36,607.11 L393.42,608.11 L393.48,609.11 L393.54,610.11 L393.61,611.10 L393.67,612.10 L393.73,613.10 L393.80,614.10 L393.86,615.10 L393.93,616.10 L393.99,617.09 L394.00,617.20 M395.74,642.95 L395.75,643.05 L395.82,644.05 L395.89,645.04 L395.96,646.04 L396.04,647.04 L396.11,648.04 L396.18,649.04 L396.25,650.03 L396.33,651.03 L396.40,652.03 L396.47,653.03 L396.55,654.03 L396.62,655.02 L396.69,656.02 L396.77,657.02 L396.84,658.02 L396.92,659.01 L396.93,659.11 M398.96,684.85 L398.97,684.95 L399.05,685.94 L399.14,686.94 L399.22,687.94 L399.30,688.93 L399.39,689.93 L399.47,690.93 L399.56,691.92 L399.64,692.92 L399.73,693.92 L399.81,694.91 L399.90,695.91 L399.99,696.91 L400.07,697.90 L400.16,698.90 L400.25,699.90 L400.34,700.89 L400.43,701.89 L400.43,701.99 M402.74,726.70 L402.75,726.80 L402.84,727.79 L402.94,728.79 L403.04,729.79 L403.14,730.78 L403.24,731.78 L403.34,732.77 L403.44,733.77 L403.54,734.76 L403.64,735.76 L403.74,736.76 L403.84,737.75 L403.94,738.75 L404.05,739.74 L404.15,740.74 L404.25,741.73 L404.35,742.73 L404.46,743.72 L404.56,744.72 L404.57,744.82 M407.29,769.49 L407.30,769.59 L407.42,770.59 L407.53,771.58 L407.65,772.58 L407.77,773.57 L407.88,774.56 L408.00,775.56 L408.12,776.55 L408.24,777.55 L408.36,778.54 L408.48,779.53 L408.60,780.53 L408.73,781.52 L408.85,782.51 L408.98,783.51 L409.10,784.50 L409.23,785.49 L409.36,786.48 L409.37,786.58 M413.06,811.10 L413.07,811.20 L413.25,812.18 L413.42,813.17 L413.60,814.15 L413.78,815.13 L413.96,816.11 L414.15,817.10 L414.33,818.08 L414.53,819.06 L414.72,820.04 L414.91,821.02 L415.11,821.99 L415.31,822.97 L415.52,823.95 L415.72,824.93 L415.93,825.90 L416.14,826.88 L416.36,827.85 L416.58,828.83 L416.60,828.92 M422.53,851.96 L422.55,852.06 L422.83,853.03 L423.10,853.99 L423.37,854.95 L423.65,855.91 L423.93,856.88 L424.20,857.84 L424.48,858.80 L424.76,859.76 L425.04,860.73 L425.32,861.69 L425.60,862.65 L425.88,863.61 L426.17,864.57 L426.45,865.54 L426.73,866.50 L427.01,867.46 L427.30,868.42 L427.58,869.38 L427.86,870.34 L427.89,870.44 M434.42,893.39 L434.44,893.49 L434.70,894.46 L434.96,895.43 L435.21,896.40 L435.46,897.37 L435.71,898.34 L435.97,899.31 L436.21,900.28 L436.46,901.25 L436.71,902.22 L436.96,903.19 L437.20,904.16 L437.45,905.14 L437.69,906.11 L437.94,907.08 L438.18,908.05 L438.43,909.02 L438.67,909.99 L438.92,910.96 L438.94,911.06 M445.39,934.99 L445.42,935.08 L445.71,936.03 L446.00,936.99 L446.30,937.94 L446.59,938.89 L446.90,939.84 L447.20,940.79 L447.51,941.73 L447.83,942.68 L448.14,943.62 L448.46,944.57 L448.79,945.51 L449.12,946.45 L449.45,947.39 L449.79,948.32 L450.14,949.26 L450.49,950.19 L450.84,951.13 L451.20,952.06 L451.23,952.15" fill="none" stroke="#d01a1a" stroke-width="4.2" stroke-linecap="round" stroke-linejoin="round"/>
<path d="M295.73,945.03 L295.87,944.94 L296.74,944.35 L297.60,943.74 L298.44,943.12 L299.25,942.49 L300.06,941.85 L300.84,941.19 L301.60,940.52 L302.35,939.84 L303.09,939.14 L303.80,938.44 L304.50,937.72 L305.18,937.00 L305.85,936.26 L306.50,935.51 L307.14,934.75 L307.76,933.98 L308.37,933.21 L308.42,933.14 M320.74,908.47 L320.77,908.37 L321.10,907.41 L321.41,906.44 L321.72,905.48 L322.03,904.51 L322.33,903.54 L322.63,902.57 L322.93,901.60 L323.22,900.62 L323.50,899.65 L323.79,898.67 L324.07,897.69 L324.35,896.71 L324.63,895.74 L324.91,894.76 L325.18,893.78 L325.45,892.81 L325.73,891.83 L326.00,890.86 L326.03,890.75 M332.54,866.85 L332.56,866.76 L332.80,865.80 L333.05,864.84 L333.29,863.88 L333.53,862.92 L333.77,861.96 L334.00,861.00 L334.24,860.04 L334.47,859.08 L334.70,858.11 L334.93,857.15 L335.15,856.18 L335.37,855.22 L335.59,854.25 L335.81,853.29 L336.03,852.32 L336.24,851.35 L336.45,850.38 L336.66,849.41 L336.68,849.32 M340.93,825.91 L340.95,825.81 L341.11,824.82 L341.26,823.83 L341.42,822.83 L341.58,821.84 L341.73,820.84 L341.88,819.85 L342.03,818.85 L342.19,817.86 L342.34,816.86 L342.49,815.87 L342.64,814.87 L342.79,813.87 L342.94,812.88 L343.09,811.88 L343.24,810.88 L343.39,809.89 L343.54,808.89 L343.55,808.78 M347.28,785.10 L347.29,785.00 L347.47,784.01 L347.64,783.02 L347.82,782.03 L347.99,781.04 L348.17,780.05 L348.35,779.06 L348.54,778.08 L348.72,777.09 L348.91,776.11 L349.10,775.12 L349.29,774.14 L349.49,773.16 L349.69,772.17 L349.89,771.19 L350.09,770.21 L350.30,769.24 L350.51,768.26 L350.72,767.28 L350.74,767.19 M357.16,743.39 L357.19,743.30 L357.50,742.36 L357.82,741.43 L358.14,740.49 L358.47,739.56 L358.81,738.62 L359.14,737.70 L359.49,736.77 L359.83,735.84 L360.19,734.92 L360.55,734.00 L360.91,733.08 L361.28,732.16 L361.65,731.24 L362.03,730.33 L362.42,729.42 L362.80,728.51 L363.20,727.60 L363.60,726.69 L363.64,726.61 M373.83,707.43 L373.89,707.34 L374.43,706.49 L374.97,705.64 L375.52,704.80 L376.08,703.95 L376.64,703.11 L377.22,702.27 L377.79,701.44 L378.38,700.61 L378.97,699.78 L379.57,698.95 L380.17,698.12 L380.78,697.30 L381.40,696.48 L382.03,695.67 L382.66,694.85 L383.30,694.04 L383.95,693.24 L384.04,693.13 M401.65,676.20 L401.73,676.14 L402.57,675.60 L403.42,675.07 L404.28,674.57 L405.15,674.08 L406.02,673.62 L406.90,673.17 L407.79,672.75 L408.69,672.36 L409.60,671.98 L410.52,671.63 L411.44,671.31 L412.37,671.01 L413.31,670.74 L414.25,670.51 L415.20,670.30 L416.14,670.12 L417.09,669.98 L418.03,669.88 L418.97,669.81 L419.00,669.81 M437.60,680.61 L437.67,680.69 L438.36,681.44 L439.04,682.18 L439.73,682.93 L440.42,683.67 L441.11,684.42 L441.80,685.17 L442.50,685.91 L443.19,686.66 L443.89,687.41 L444.58,688.16 L445.27,688.91 L445.97,689.66 L446.66,690.41 L447.36,691.16 L448.05,691.91 L448.75,692.67 L449.44,693.42 L449.52,693.51 M464.65,711.12 L464.72,711.21 L465.34,712.01 L465.95,712.81 L466.56,713.61 L467.16,714.41 L467.76,715.22 L468.36,716.03 L468.95,716.84 L469.53,717.66 L470.11,718.48 L470.69,719.30 L471.26,720.12 L471.82,720.94 L472.38,721.77 L472.94,722.60 L473.49,723.43 L474.04,724.26 L474.58,725.09 L475.12,725.93 L475.66,726.77 L475.71,726.85 M488.09,749.23 L488.13,749.31 L488.56,750.20 L488.99,751.09 L489.41,751.99 L489.83,752.88 L490.25,753.78 L490.66,754.68 L491.07,755.58 L491.48,756.49 L491.88,757.39 L492.29,758.30 L492.68,759.21 L493.08,760.12 L493.47,761.03 L493.86,761.94 L494.25,762.85 L494.63,763.77 L495.01,764.69 L495.39,765.61 L495.42,765.69 M504.01,788.89 L504.04,788.98 L504.36,789.93 L504.68,790.88 L504.99,791.84 L505.30,792.79 L505.62,793.74 L505.93,794.70 L506.23,795.65 L506.54,796.61 L506.85,797.57 L507.15,798.52 L507.45,799.48 L507.75,800.44 L508.05,801.40 L508.35,802.36 L508.65,803.33 L508.94,804.29 L508.97,804.39 M516.36,829.36 L516.40,829.46 L516.68,830.43 L516.97,831.40 L517.26,832.37 L517.54,833.34 L517.83,834.30 L518.12,835.27 L518.42,836.24 L518.71,837.20 L519.00,838.17 L519.30,839.13 L519.59,840.10 L519.89,841.06 L520.19,842.02 L520.49,842.98 L520.79,843.94 L521.09,844.90 L521.39,845.86 L521.70,846.82 L521.73,846.92 M529.70,869.35 L529.74,869.44 L530.11,870.36 L530.48,871.29 L530.86,872.20 L531.24,873.12 L531.63,874.04 L532.02,874.95 L532.41,875.86 L532.81,876.77 L533.21,877.67 L533.62,878.58 L534.02,879.48 L534.44,880.38 L534.86,881.28 L535.28,882.17 L535.70,883.06 L536.13,883.95 L536.57,884.84 L537.01,885.72 L537.45,886.61 L537.90,887.49 L538.36,888.36 L538.82,889.24 L539.28,890.11 L539.75,890.98 L540.22,891.84 L540.70,892.71 L541.18,893.57 L541.23,893.64 M553.85,912.39 L553.91,912.47 L554.54,913.25 L555.17,914.02 L555.82,914.79 L556.46,915.56 L557.12,916.32 L557.78,917.08 L558.45,917.84 L559.12,918.59 L559.80,919.34 L560.49,920.08 L561.18,920.82 L561.88,921.55 L562.59,922.28 L563.30,923.00 L564.01,923.72 L564.73,924.43 L565.46,925.14 L566.19,925.85 L566.28,925.93 M584.33,940.43 L584.43,940.49 L585.27,941.06 L586.12,941.61 L586.98,942.16 L587.83,942.71 L588.69,943.24 L589.56,943.77 L590.42,944.29 L591.30,944.81 L592.17,945.31 L593.05,945.82 L593.93,946.31 L594.81,946.79 L595.70,947.27 L596.59,947.74 L597.48,948.20 L598.38,948.66 L599.28,949.11 L600.18,949.55 L601.08,949.98 L601.17,950.02 M624.33,958.32 L624.42,958.35 L625.38,958.60 L626.34,958.84 L627.30,959.08 L628.26,959.31 L629.23,959.54 L630.20,959.76 L631.16,959.98 L632.13,960.19 L633.10,960.39 L634.07,960.59 L635.05,960.79 L636.02,960.98 L637.00,961.17 L637.97,961.35 L638.95,961.53 L639.93,961.71 L640.91,961.88 L641.89,962.04 L642.87,962.20 L643.85,962.36 L643.95,962.37 M667.56,965.11 L667.66,965.11 L668.66,965.19 L669.66,965.27 L670.66,965.34 L671.66,965.41 L672.67,965.48 L673.67,965.54 L674.67,965.60 L675.67,965.67 L676.68,965.72 L677.68,965.78 L678.69,965.84 L679.69,965.89 L680.70,965.94 L681.70,965.99 L682.71,966.03 L683.71,966.08 L684.72,966.12 L685.72,966.16 L685.83,966.17 M710.12,966.79 L710.91,966.80 L711.92,966.81 L712.92,966.83 L713.93,966.84 L714.93,966.86 L715.94,966.87 L716.95,966.88 L717.95,966.90 L718.96,966.91 L719.96,966.93 L720.97,966.94 L721.97,966.96 L722.97,966.97 L723.98,966.98 L724.98,967.00 L725.98,967.01 L726.99,967.03 L727.82,967.04 M752.71,967.42 L752.98,967.43 L753.98,967.44 L754.97,967.46 L755.97,967.47 L756.97,967.49 L757.96,967.51 L758.96,967.52 L759.96,967.54 L760.95,967.55 L761.95,967.57 L762.95,967.58 L763.94,967.60 L764.94,967.61 L765.93,967.63 L766.93,967.64 L767.93,967.66 L768.92,967.68 L769.92,967.69 L770.41,967.70 M795.31,968.04 L795.81,968.05 L796.81,968.06 L797.81,968.07 L798.80,968.09 L799.80,968.10 L800.80,968.11 L801.80,968.12 L802.79,968.13 L803.79,968.14 L804.79,968.15 L805.79,968.16 L806.79,968.18 L807.78,968.19 L808.78,968.20 L809.78,968.21 L810.78,968.22 L811.78,968.22 L812.78,968.23 L813.01,968.24 M837.91,968.39 L838.85,968.39 L839.86,968.40 L840.86,968.40 L841.87,968.40 L842.88,968.40 L843.89,968.40 L844.89,968.40 L845.90,968.40 L846.91,968.41 L847.92,968.41 L848.93,968.41 L849.94,968.40 L850.95,968.40 L851.97,968.40 L852.98,968.40 L853.99,968.40 L854.10,968.40" fill="none" stroke="#2cdb2c" stroke-width="4.2" stroke-linecap="round" stroke-linejoin="round"/>
<path d="M173.60,941.81 L173.66,941.73 L174.26,940.91 L174.84,940.09 L175.41,939.27 L175.98,938.44 L176.53,937.61 L177.08,936.77 L177.62,935.93 L178.15,935.08 L178.67,934.23 L179.19,933.37 L179.70,932.51 L180.20,931.65 L180.69,930.78 L181.18,929.91 L181.66,929.04 L181.70,928.95 M191.75,906.32 L191.78,906.22 L192.13,905.28 L192.48,904.34 L192.83,903.40 L193.17,902.45 L193.51,901.51 L193.84,900.56 L194.18,899.62 L194.51,898.67 L194.84,897.72 L195.17,896.77 L195.50,895.83 L195.83,894.88 L196.15,893.93 L196.48,892.98 L196.80,892.03 L197.12,891.08 L197.44,890.13 L197.48,890.03 M205.11,866.45 L205.14,866.35 L205.42,865.39 L205.69,864.43 L205.96,863.47 L206.23,862.51 L206.49,861.55 L206.75,860.59 L207.01,859.62 L207.26,858.66 L207.50,857.69 L207.75,856.72 L207.98,855.75 L208.22,854.78 L208.44,853.80 L208.67,852.83 L208.88,851.85 L209.09,850.87 L209.30,849.89 L209.50,848.91 L209.70,847.92 L209.72,847.82 M214.41,824.41 L214.44,824.31 L214.68,823.34 L214.93,822.38 L215.19,821.42 L215.46,820.46 L215.74,819.50 L216.03,818.54 L216.32,817.59 L216.63,816.64 L216.95,815.70 L217.28,814.76 L217.62,813.82 L217.97,812.89 L218.34,811.96 L218.71,811.03 L219.08,810.11 L219.46,809.18 L219.83,808.26 L219.87,808.16 M225.92,782.15 L225.95,782.05 L226.24,781.10 L226.55,780.15 L226.88,779.20 L227.21,778.26 L227.55,777.32 L227.90,776.38 L228.25,775.44 L228.61,774.50 L228.96,773.56 L229.32,772.62 L229.67,771.68 L230.01,770.74 L230.35,769.80 L230.67,768.85 L230.99,767.90 L231.28,766.94 L231.31,766.85 M236.54,742.59 L236.56,742.50 L236.88,741.55 L237.21,740.62 L237.57,739.68 L237.93,738.75 L238.31,737.83 L238.70,736.91 L239.10,735.99 L239.51,735.08 L239.92,734.16 L240.34,733.25 L240.76,732.34 L241.18,731.42 L241.60,730.51 L242.02,729.60 L242.43,728.68 L242.84,727.76 L243.24,726.84 L243.63,725.92 L243.66,725.82 M251.24,702.19 L251.28,702.09 L251.61,701.15 L251.95,700.20 L252.29,699.26 L252.64,698.32 L252.99,697.38 L253.34,696.44 L253.70,695.50 L254.05,694.56 L254.39,693.61 L254.74,692.67 L255.07,691.73 L255.40,690.79 L255.72,689.84 L256.04,688.89 L256.34,687.94 L256.62,686.98 L256.90,686.03 L256.92,685.93 M261.41,659.50 L261.43,659.40 L261.65,658.42 L261.89,657.44 L262.13,656.47 L262.38,655.50 L262.63,654.53 L262.89,653.56 L263.15,652.59 L263.41,651.62 L263.67,650.65 L263.92,649.68 L264.17,648.71 L264.41,647.74 L264.65,646.77 L264.87,645.80 L265.08,644.82 L265.27,643.84 L265.29,643.75 M267.77,618.06 L267.79,617.96 L267.98,616.98 L268.18,616.00 L268.39,615.02 L268.62,614.05 L268.85,613.08 L269.10,612.10 L269.35,611.13 L269.61,610.16 L269.87,609.20 L270.13,608.23 L270.39,607.26 L270.65,606.29 L270.91,605.32 L271.17,604.35 L271.41,603.38 L271.65,602.41 L271.88,601.44 L272.10,600.46 L272.12,600.37 M274.67,575.70 L274.68,575.60 L274.74,574.59 L274.80,573.59 L274.87,572.59 L274.93,571.59 L275.00,570.58 L275.07,569.58 L275.13,568.58 L275.20,567.58 L275.28,566.58 L275.35,565.57 L275.42,564.57 L275.49,563.57 L275.57,562.57 L275.64,561.57 L275.71,560.57 L275.79,559.57 L275.79,559.47 M277.71,532.76 L277.71,532.66 L277.78,531.66 L277.85,530.67 L277.92,529.67 L277.99,528.68 L278.06,527.68 L278.12,526.69 L278.19,525.69 L278.26,524.69 L278.33,523.70 L278.39,522.70 L278.46,521.71 L278.53,520.71 L278.59,519.71 L278.66,518.72 L278.73,517.72 L278.79,516.72 L278.86,515.73 L278.86,515.63 M280.39,491.84 L280.40,491.74 L280.46,490.74 L280.52,489.74 L280.58,488.73 L280.65,487.73 L280.71,486.73 L280.77,485.73 L280.83,484.73 L280.90,483.73 L280.96,482.73 L281.02,481.72 L281.08,480.72 L281.14,479.72 L281.21,478.72 L281.27,477.72 L281.33,476.71 L281.39,475.71 L281.46,474.71 L281.52,473.71 L281.52,473.60 M283.08,448.79 L283.09,448.68 L283.15,447.68 L283.22,446.69 L283.28,445.69 L283.34,444.69 L283.41,443.69 L283.47,442.69 L283.54,441.69 L283.60,440.69 L283.67,439.70 L283.73,438.70 L283.80,437.70 L283.86,436.71 L283.93,435.71 L284.00,434.71 L284.06,433.72 L284.13,432.72 L284.19,431.72 L284.20,431.63 M285.96,405.99 L285.97,405.90 L286.03,404.90 L286.10,403.91 L286.17,402.92 L286.24,401.92 L286.31,400.93 L286.38,399.94 L286.44,398.94 L286.51,397.95 L286.58,396.95 L286.65,395.96 L286.72,394.96 L286.78,393.97 L286.85,392.97 L286.92,391.98 L286.98,390.98 L287.05,389.99 L287.12,388.99 L287.12,388.89 M288.73,363.03 L288.74,362.91 L288.80,361.90 L288.85,360.89 L288.91,359.88 L288.97,358.86 L289.02,357.85 L289.08,356.83 L289.13,355.82 L289.18,354.80 L289.24,353.78 L289.29,352.76 L289.34,351.74 L289.39,350.72 L289.44,349.70 L289.49,348.68 L289.54,347.66 L289.59,346.63 L289.60,346.51 M294.75,322.48 L295.27,322.14 L295.90,322.06 L296.56,322.26 L297.23,322.67 L297.89,323.23 L298.50,323.87 M303.94,347.46 L303.95,347.59 L304.04,348.63 L304.14,349.65 L304.23,350.68 L304.33,351.71 L304.42,352.74 L304.52,353.76 L304.62,354.79 L304.71,355.81 L304.81,356.83 L304.91,357.85 L305.01,358.87 L305.11,359.89 L305.20,360.91 L305.30,361.93 L305.40,362.94 L305.50,363.96 L305.60,364.98 L305.61,365.09 M308.13,390.00 L308.15,390.10 L308.25,391.10 L308.35,392.09 L308.46,393.09 L308.56,394.08 L308.66,395.08 L308.77,396.07 L308.87,397.07 L308.97,398.06 L309.08,399.05 L309.18,400.05 L309.28,401.04 L309.39,402.03 L309.49,403.02 L309.59,404.01 L309.70,405.01 L309.80,406.00 L309.90,406.99 L309.91,407.08 M312.54,432.59 L312.55,432.69 L312.65,433.67 L312.75,434.66 L312.85,435.65 L312.94,436.64 L313.04,437.63 L313.14,438.62 L313.24,439.61 L313.33,440.60 L313.43,441.59 L313.53,442.57 L313.62,443.56 L313.72,444.55 L313.82,445.55 L313.91,446.54 L314.01,447.53 L314.10,448.52 L314.19,449.51 L314.20,449.61 M316.45,474.29 L316.46,474.39 L316.54,475.39 L316.63,476.39 L316.72,477.39 L316.81,478.39 L316.89,479.39 L316.98,480.39 L317.07,481.39 L317.16,482.38 L317.25,483.38 L317.33,484.38 L317.42,485.38 L317.51,486.38 L317.60,487.38 L317.69,488.38 L317.77,489.38 L317.86,490.38 L317.95,491.38 L317.96,491.49 M320.31,517.30 L320.32,517.40 L320.41,518.40 L320.51,519.40 L320.60,520.40 L320.70,521.40 L320.80,522.40 L320.90,523.40 L320.99,524.40 L321.09,525.40 L321.19,526.39 L321.29,527.39 L321.39,528.39 L321.49,529.39 L321.59,530.39 L321.70,531.39 L321.80,532.38 L321.90,533.38 L322.00,534.38 L322.01,534.48 M324.76,559.16 L324.77,559.25 L324.89,560.25 L325.01,561.24 L325.12,562.23 L325.24,563.23 L325.36,564.22 L325.48,565.21 L325.60,566.20 L325.72,567.20 L325.83,568.19 L325.95,569.18 L326.07,570.17 L326.19,571.16 L326.31,572.16 L326.44,573.15 L326.56,574.14 L326.68,575.13 L326.80,576.12 L326.81,576.22 M329.85,600.80 L329.86,600.90 L329.99,601.89 L330.11,602.88 L330.23,603.88 L330.35,604.87 L330.48,605.86 L330.60,606.85 L330.72,607.84 L330.84,608.83 L330.96,609.83 L331.09,610.82 L331.21,611.81 L331.33,612.80 L331.45,613.79 L331.57,614.79 L331.69,615.78 L331.81,616.77 L331.93,617.76 L331.94,617.86 M334.94,643.50 L334.95,643.60 L335.06,644.60 L335.17,645.59 L335.29,646.59 L335.40,647.58 L335.51,648.58 L335.62,649.57 L335.73,650.57 L335.84,651.56 L335.94,652.56 L336.05,653.56 L336.16,654.55 L336.27,655.55 L336.37,656.54 L336.48,657.54 L336.59,658.53 L336.69,659.53 L336.80,660.53 L336.81,660.63 M339.27,685.35 L339.28,685.45 L339.37,686.44 L339.46,687.44 L339.56,688.44 L339.65,689.44 L339.74,690.43 L339.83,691.43 L339.92,692.43 L340.01,693.43 L340.09,694.42 L340.18,695.42 L340.27,696.42 L340.36,697.42 L340.44,698.41 L340.53,699.41 L340.61,700.41 L340.70,701.41 L340.78,702.41 L340.79,702.51 M342.77,728.25 L342.78,728.35 L342.85,729.35 L342.92,730.34 L342.99,731.34 L343.06,732.34 L343.13,733.34 L343.20,734.33 L343.27,735.33 L343.34,736.33 L343.41,737.33 L343.48,738.33 L343.55,739.32 L343.62,740.32 L343.69,741.32 L343.76,742.32 L343.83,743.31 L343.90,744.31 L343.97,745.31 L343.98,745.41 M345.74,770.15 L345.74,770.25 L345.82,771.25 L345.89,772.25 L345.97,773.24 L346.04,774.24 L346.12,775.24 L346.19,776.24 L346.27,777.23 L346.35,778.23 L346.42,779.23 L346.50,780.22 L346.58,781.22 L346.66,782.22 L346.74,783.22 L346.81,784.21 L346.89,785.21 L346.98,786.21 L347.06,787.20 L347.06,787.30 M349.38,813.01 L349.39,813.12 L349.49,814.11 L349.59,815.11 L349.69,816.10 L349.79,817.10 L349.90,818.09 L350.00,819.09 L350.10,820.09 L350.21,821.08 L350.31,822.08 L350.42,823.07 L350.53,824.07 L350.64,825.06 L350.75,826.06 L350.86,827.05 L350.97,828.05 L351.08,829.04 L351.19,830.04 L351.20,830.14 M354.33,855.78 L354.35,855.88 L354.47,856.87 L354.60,857.87 L354.72,858.86 L354.84,859.85 L354.97,860.84 L355.09,861.83 L355.21,862.83 L355.34,863.82 L355.46,864.81 L355.58,865.80 L355.70,866.79 L355.82,867.78 L355.94,868.77 L355.96,868.87 M359.70,897.33 L359.72,897.43 L359.88,898.42 L360.05,899.40 L360.23,900.39 L360.41,901.37 L360.59,902.35 L360.78,903.34 L360.97,904.32 L361.17,905.30 L361.37,906.29 L361.58,907.27 L361.79,908.25 L362.01,909.23 L362.24,910.21 L362.47,911.20 L362.71,912.18 L362.96,913.16 L363.21,914.14 L363.24,914.25 M370.87,934.90 L370.91,934.98 L371.39,935.86 L371.87,936.73 L372.37,937.59 L372.89,938.43 L373.41,939.27 L373.95,940.10 L374.51,940.91 L375.08,941.71 L375.66,942.50 L376.26,943.28 L376.88,944.04 L377.51,944.79 L378.15,945.53 L378.82,946.25 L378.87,946.30 M399.53,959.72 L399.65,959.77 L400.60,960.15 L401.56,960.51 L402.53,960.86 L403.50,961.21 L404.48,961.54 L405.45,961.86 L406.44,962.17 L407.42,962.46 L408.41,962.75 L409.41,963.03 L410.40,963.30 L411.39,963.55 L412.39,963.80 L413.39,964.04 L414.38,964.26 L415.38,964.48 L416.38,964.69 L417.37,964.89 L417.48,964.91 M442.84,967.67 L442.93,967.68 L443.91,967.73 L444.90,967.79 L445.89,967.84 L446.88,967.90 L447.87,967.95 L448.86,968.01 L449.86,968.06 L450.86,968.12 L451.86,968.17 L452.86,968.23 L453.87,968.30 L454.87,968.36 L455.88,968.43 L456.90,968.49 L457.91,968.57 L458.93,968.64 L459.06,968.65" fill="none" stroke="#000" stroke-width="4.2" stroke-linecap="round" stroke-linejoin="round"/>
<text x="143" y="986.1" text-anchor="end" font-size="53" transform="translate(0,986.1) scale(1,1.03) translate(0,-986.1)">0</text>
<path fill="#000" transform="translate(114.3,800.9) scale(0.02539,-0.02539)" d="M763 0L583 0L583 1147Q518 1085 412.5 1023Q307 961 223 930L223 1104Q374 1175 487 1276Q600 1377 647 1472L763 1472Z"/>
<text x="143" y="617.0" text-anchor="end" font-size="53" transform="translate(0,617.0) scale(1,1.03) translate(0,-617.0)">2</text>
<text x="143" y="432.5" text-anchor="end" font-size="53" transform="translate(0,432.5) scale(1,1.03) translate(0,-432.5)">3</text>
<text x="143" y="247.9" text-anchor="end" font-size="53" transform="translate(0,247.9) scale(1,1.03) translate(0,-247.9)">4</text>
<text x="143" y="63.4" text-anchor="end" font-size="53" transform="translate(0,63.4) scale(1,1.03) translate(0,-63.4)">5</text>
<text x="172.9" y="1042" text-anchor="middle" font-size="53" transform="translate(0,1042) scale(1,1.03) translate(0,-1042)">0</text>
<path fill="#000" transform="translate(454.4,1040.8) scale(0.0252,-0.0252)" d="M763 0L583 0L583 1147Q518 1085 412.5 1023Q307 961 223 930L223 1104Q374 1175 487 1276Q600 1377 647 1472L763 1472Z"/>
<text x="483.3" y="1042" font-size="53" transform="translate(0,1042) scale(1,1.03) translate(0,-1042)">0</text>
<text x="793.0" y="1042" text-anchor="middle" font-size="53" transform="translate(0,1042) scale(1,1.03) translate(0,-1042)">20</text>
<text x="1103.0" y="1042" text-anchor="middle" font-size="53" transform="translate(0,1042) scale(1,1.03) translate(0,-1042)">30</text>
<text x="1413.1" y="1042" text-anchor="middle" font-size="53" transform="translate(0,1042) scale(1,1.03) translate(0,-1042)">40</text>
<text x="793.6" y="1135.5" text-anchor="middle" font-size="61.6">Time (min)</text>
<text transform="translate(63.8,507.5) rotate(-90)" x="0" y="0" text-anchor="middle" font-size="60.75">Heat flow (W/g) endo down</text>
<path d="M984.4,81.9 H1325.4" stroke="#858585" stroke-width="2" fill="none"/>
<path d="M984.4,273.8 H1325.4" stroke="#747474" stroke-width="2" fill="none"/>
<path d="M984.4,80.9 V274.8" stroke="#a5a5a5" stroke-width="2.5" fill="none"/>
<path d="M1325.4,80.9 V274.8" stroke="#8e8e8e" stroke-width="2" fill="none"/>
<line x1="992.2" y1="116.9" x2="1101.8" y2="116.9" stroke="#000" stroke-width="4"/>
<text x="1113.6" y="133.9" font-size="47.6" transform="translate(0,133.9) scale(1,1.01) translate(0,-133.9)">80 <tspan font-size="28" dy="-22.5">o</tspan><tspan dy="22.5">C/min</tspan></text>
<line x1="992.2" y1="182.9" x2="1101.8" y2="182.9" stroke="#d01a1a" stroke-width="4"/>
<text x="1113.6" y="198.6" font-size="47.6" transform="translate(0,198.6) scale(1,1.01) translate(0,-198.6)">70 <tspan font-size="28" dy="-22.5">o</tspan><tspan dy="22.5">C/min</tspan></text>
<line x1="992.2" y1="247.9" x2="1101.8" y2="247.9" stroke="#2cdb2c" stroke-width="4"/>
<text x="1113.6" y="264.6" font-size="47.6" transform="translate(0,264.6) scale(1,1.01) translate(0,-264.6)">60 <tspan font-size="28" dy="-22.5">o</tspan><tspan dy="22.5">C/min</tspan></text>
</g></svg>
</body></html>
